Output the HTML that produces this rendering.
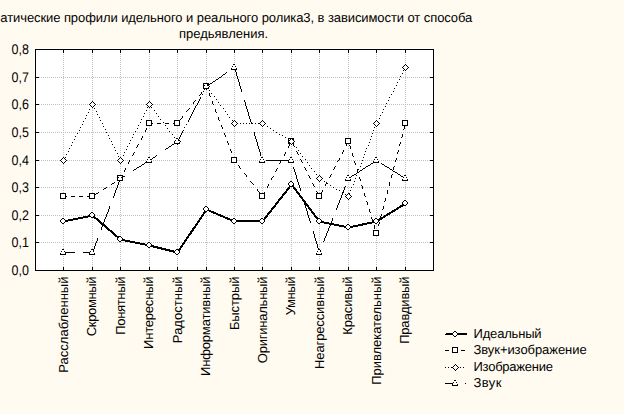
<!DOCTYPE html>
<html><head><meta charset="utf-8"><title>chart</title>
<style>html,body{margin:0;padding:0;background:#fffbf0;overflow:hidden}svg{display:block}</style>
</head><body>
<svg width="624" height="414" viewBox="0 0 624 414" shape-rendering="crispEdges"><rect width="624" height="414" fill="#fffbf0"/><rect x="34" y="48" width="399" height="222" fill="#fff"/><path fill="#fff" d="M454 332h2v1h-2zM453 333h4v1h-4zM453 334h4v1h-4zM454 335h2v1h-2zM453 348h4v1h-4zM453 349h4v1h-4zM453 350h4v1h-4zM453 351h4v1h-4zM455 365h1v1h-1zM454 366h3v1h-3zM453 367h5v1h-5zM454 368h3v1h-3zM455 369h1v1h-1zM454 381h2v1h-2zM454 382h2v1h-2zM453 383h4v1h-4zM453 384h4v1h-4z"/><path fill="#c0c0c0" d="M63 54h1v1h-1zM92 54h1v1h-1zM120 54h1v1h-1zM149 54h1v1h-1zM177 54h1v1h-1zM206 54h1v1h-1zM234 54h1v1h-1zM262 54h1v1h-1zM291 54h1v1h-1zM319 54h1v1h-1zM348 54h1v1h-1zM376 54h1v1h-1zM405 54h1v1h-1zM63 56h1v1h-1zM92 56h1v1h-1zM120 56h1v1h-1zM149 56h1v1h-1zM177 56h1v1h-1zM206 56h1v1h-1zM234 56h1v1h-1zM262 56h1v1h-1zM291 56h1v1h-1zM319 56h1v1h-1zM348 56h1v1h-1zM376 56h1v1h-1zM405 56h1v1h-1zM63 58h1v1h-1zM92 58h1v1h-1zM120 58h1v1h-1zM149 58h1v1h-1zM177 58h1v1h-1zM206 58h1v1h-1zM234 58h1v1h-1zM262 58h1v1h-1zM291 58h1v1h-1zM319 58h1v1h-1zM348 58h1v1h-1zM376 58h1v1h-1zM405 58h1v1h-1zM63 60h1v1h-1zM92 60h1v1h-1zM120 60h1v1h-1zM149 60h1v1h-1zM177 60h1v1h-1zM206 60h1v1h-1zM234 60h1v1h-1zM262 60h1v1h-1zM291 60h1v1h-1zM319 60h1v1h-1zM348 60h1v1h-1zM376 60h1v1h-1zM405 60h1v1h-1zM63 62h1v1h-1zM92 62h1v1h-1zM120 62h1v1h-1zM149 62h1v1h-1zM177 62h1v1h-1zM206 62h1v1h-1zM234 62h1v1h-1zM262 62h1v1h-1zM291 62h1v1h-1zM319 62h1v1h-1zM348 62h1v1h-1zM376 62h1v1h-1zM405 62h1v1h-1zM63 64h1v1h-1zM92 64h1v1h-1zM120 64h1v1h-1zM149 64h1v1h-1zM177 64h1v1h-1zM206 64h1v1h-1zM262 64h1v1h-1zM291 64h1v1h-1zM319 64h1v1h-1zM348 64h1v1h-1zM376 64h1v1h-1zM63 66h1v1h-1zM92 66h1v1h-1zM120 66h1v1h-1zM149 66h1v1h-1zM177 66h1v1h-1zM206 66h1v1h-1zM262 66h1v1h-1zM291 66h1v1h-1zM319 66h1v1h-1zM348 66h1v1h-1zM376 66h1v1h-1zM63 68h1v1h-1zM92 68h1v1h-1zM120 68h1v1h-1zM149 68h1v1h-1zM177 68h1v1h-1zM206 68h1v1h-1zM262 68h1v1h-1zM291 68h1v1h-1zM319 68h1v1h-1zM348 68h1v1h-1zM376 68h1v1h-1zM63 70h1v1h-1zM92 70h1v1h-1zM120 70h1v1h-1zM149 70h1v1h-1zM177 70h1v1h-1zM206 70h1v1h-1zM234 70h1v1h-1zM262 70h1v1h-1zM291 70h1v1h-1zM319 70h1v1h-1zM348 70h1v1h-1zM376 70h1v1h-1zM63 72h1v1h-1zM92 72h1v1h-1zM120 72h1v1h-1zM149 72h1v1h-1zM177 72h1v1h-1zM206 72h1v1h-1zM234 72h1v1h-1zM262 72h1v1h-1zM291 72h1v1h-1zM319 72h1v1h-1zM348 72h1v1h-1zM376 72h1v1h-1zM405 72h1v1h-1zM63 74h1v1h-1zM92 74h1v1h-1zM120 74h1v1h-1zM149 74h1v1h-1zM177 74h1v1h-1zM206 74h1v1h-1zM234 74h1v1h-1zM262 74h1v1h-1zM291 74h1v1h-1zM319 74h1v1h-1zM348 74h1v1h-1zM376 74h1v1h-1zM405 74h1v1h-1zM63 76h1v1h-1zM92 76h1v1h-1zM120 76h1v1h-1zM149 76h1v1h-1zM177 76h1v1h-1zM206 76h1v1h-1zM234 76h1v1h-1zM262 76h1v1h-1zM291 76h1v1h-1zM319 76h1v1h-1zM348 76h1v1h-1zM376 76h1v1h-1zM405 76h1v1h-1zM39 77h1v1h-1zM41 77h1v1h-1zM43 77h1v1h-1zM45 77h1v1h-1zM47 77h1v1h-1zM49 77h1v1h-1zM51 77h1v1h-1zM53 77h1v1h-1zM55 77h1v1h-1zM57 77h1v1h-1zM59 77h1v1h-1zM61 77h1v1h-1zM63 77h1v1h-1zM65 77h1v1h-1zM67 77h1v1h-1zM69 77h1v1h-1zM71 77h1v1h-1zM73 77h1v1h-1zM75 77h1v1h-1zM77 77h1v1h-1zM79 77h1v1h-1zM81 77h1v1h-1zM83 77h1v1h-1zM85 77h1v1h-1zM87 77h1v1h-1zM89 77h1v1h-1zM91 77h1v1h-1zM93 77h1v1h-1zM95 77h1v1h-1zM97 77h1v1h-1zM99 77h1v1h-1zM101 77h1v1h-1zM103 77h1v1h-1zM105 77h1v1h-1zM107 77h1v1h-1zM109 77h1v1h-1zM111 77h1v1h-1zM113 77h1v1h-1zM115 77h1v1h-1zM117 77h1v1h-1zM119 77h1v1h-1zM121 77h1v1h-1zM123 77h1v1h-1zM125 77h1v1h-1zM127 77h1v1h-1zM129 77h1v1h-1zM131 77h1v1h-1zM133 77h1v1h-1zM135 77h1v1h-1zM137 77h1v1h-1zM139 77h1v1h-1zM141 77h1v1h-1zM143 77h1v1h-1zM145 77h1v1h-1zM147 77h1v1h-1zM149 77h1v1h-1zM151 77h1v1h-1zM153 77h1v1h-1zM155 77h1v1h-1zM157 77h1v1h-1zM159 77h1v1h-1zM161 77h1v1h-1zM163 77h1v1h-1zM165 77h1v1h-1zM167 77h1v1h-1zM169 77h1v1h-1zM171 77h1v1h-1zM173 77h1v1h-1zM175 77h1v1h-1zM177 77h1v1h-1zM179 77h1v1h-1zM181 77h1v1h-1zM183 77h1v1h-1zM185 77h1v1h-1zM187 77h1v1h-1zM189 77h1v1h-1zM191 77h1v1h-1zM193 77h1v1h-1zM195 77h1v1h-1zM197 77h1v1h-1zM199 77h1v1h-1zM201 77h1v1h-1zM203 77h1v1h-1zM205 77h1v1h-1zM207 77h1v1h-1zM209 77h1v1h-1zM211 77h1v1h-1zM213 77h1v1h-1zM215 77h1v1h-1zM217 77h1v1h-1zM221 77h1v1h-1zM223 77h1v1h-1zM225 77h1v1h-1zM227 77h1v1h-1zM229 77h1v1h-1zM231 77h1v1h-1zM233 77h1v1h-1zM235 77h1v1h-1zM239 77h1v1h-1zM241 77h1v1h-1zM243 77h1v1h-1zM245 77h1v1h-1zM247 77h1v1h-1zM249 77h1v1h-1zM251 77h1v1h-1zM253 77h1v1h-1zM255 77h1v1h-1zM257 77h1v1h-1zM259 77h1v1h-1zM261 77h1v1h-1zM263 77h1v1h-1zM265 77h1v1h-1zM267 77h1v1h-1zM269 77h1v1h-1zM271 77h1v1h-1zM273 77h1v1h-1zM275 77h1v1h-1zM277 77h1v1h-1zM279 77h1v1h-1zM281 77h1v1h-1zM283 77h1v1h-1zM285 77h1v1h-1zM287 77h1v1h-1zM289 77h1v1h-1zM291 77h1v1h-1zM293 77h1v1h-1zM295 77h1v1h-1zM297 77h1v1h-1zM299 77h1v1h-1zM301 77h1v1h-1zM303 77h1v1h-1zM305 77h1v1h-1zM307 77h1v1h-1zM309 77h1v1h-1zM311 77h1v1h-1zM313 77h1v1h-1zM315 77h1v1h-1zM317 77h1v1h-1zM319 77h1v1h-1zM321 77h1v1h-1zM323 77h1v1h-1zM325 77h1v1h-1zM327 77h1v1h-1zM329 77h1v1h-1zM331 77h1v1h-1zM333 77h1v1h-1zM335 77h1v1h-1zM337 77h1v1h-1zM339 77h1v1h-1zM341 77h1v1h-1zM343 77h1v1h-1zM345 77h1v1h-1zM347 77h1v1h-1zM349 77h1v1h-1zM351 77h1v1h-1zM353 77h1v1h-1zM355 77h1v1h-1zM357 77h1v1h-1zM359 77h1v1h-1zM361 77h1v1h-1zM363 77h1v1h-1zM365 77h1v1h-1zM367 77h1v1h-1zM369 77h1v1h-1zM371 77h1v1h-1zM373 77h1v1h-1zM375 77h1v1h-1zM377 77h1v1h-1zM379 77h1v1h-1zM381 77h1v1h-1zM383 77h1v1h-1zM385 77h1v1h-1zM387 77h1v1h-1zM389 77h1v1h-1zM391 77h1v1h-1zM393 77h1v1h-1zM395 77h1v1h-1zM397 77h1v1h-1zM399 77h1v1h-1zM401 77h1v1h-1zM403 77h1v1h-1zM405 77h1v1h-1zM407 77h1v1h-1zM409 77h1v1h-1zM411 77h1v1h-1zM413 77h1v1h-1zM415 77h1v1h-1zM417 77h1v1h-1zM419 77h1v1h-1zM421 77h1v1h-1zM423 77h1v1h-1zM425 77h1v1h-1zM427 77h1v1h-1zM429 77h1v1h-1zM63 78h1v1h-1zM92 78h1v1h-1zM120 78h1v1h-1zM149 78h1v1h-1zM177 78h1v1h-1zM206 78h1v1h-1zM234 78h1v1h-1zM262 78h1v1h-1zM291 78h1v1h-1zM319 78h1v1h-1zM348 78h1v1h-1zM376 78h1v1h-1zM405 78h1v1h-1zM63 80h1v1h-1zM92 80h1v1h-1zM120 80h1v1h-1zM149 80h1v1h-1zM177 80h1v1h-1zM206 80h1v1h-1zM234 80h1v1h-1zM262 80h1v1h-1zM291 80h1v1h-1zM319 80h1v1h-1zM348 80h1v1h-1zM376 80h1v1h-1zM405 80h1v1h-1zM63 82h1v1h-1zM92 82h1v1h-1zM120 82h1v1h-1zM149 82h1v1h-1zM177 82h1v1h-1zM206 82h1v1h-1zM234 82h1v1h-1zM262 82h1v1h-1zM291 82h1v1h-1zM319 82h1v1h-1zM348 82h1v1h-1zM376 82h1v1h-1zM405 82h1v1h-1zM63 84h1v1h-1zM92 84h1v1h-1zM120 84h1v1h-1zM149 84h1v1h-1zM177 84h1v1h-1zM234 84h1v1h-1zM262 84h1v1h-1zM291 84h1v1h-1zM319 84h1v1h-1zM348 84h1v1h-1zM376 84h1v1h-1zM405 84h1v1h-1zM63 86h1v1h-1zM92 86h1v1h-1zM120 86h1v1h-1zM149 86h1v1h-1zM177 86h1v1h-1zM234 86h1v1h-1zM262 86h1v1h-1zM291 86h1v1h-1zM319 86h1v1h-1zM348 86h1v1h-1zM376 86h1v1h-1zM405 86h1v1h-1zM63 88h1v1h-1zM92 88h1v1h-1zM120 88h1v1h-1zM149 88h1v1h-1zM177 88h1v1h-1zM234 88h1v1h-1zM262 88h1v1h-1zM291 88h1v1h-1zM319 88h1v1h-1zM348 88h1v1h-1zM376 88h1v1h-1zM405 88h1v1h-1zM63 90h1v1h-1zM92 90h1v1h-1zM120 90h1v1h-1zM149 90h1v1h-1zM177 90h1v1h-1zM206 90h1v1h-1zM234 90h1v1h-1zM262 90h1v1h-1zM291 90h1v1h-1zM319 90h1v1h-1zM348 90h1v1h-1zM376 90h1v1h-1zM405 90h1v1h-1zM63 92h1v1h-1zM92 92h1v1h-1zM120 92h1v1h-1zM149 92h1v1h-1zM177 92h1v1h-1zM206 92h1v1h-1zM234 92h1v1h-1zM262 92h1v1h-1zM291 92h1v1h-1zM319 92h1v1h-1zM348 92h1v1h-1zM376 92h1v1h-1zM405 92h1v1h-1zM63 94h1v1h-1zM92 94h1v1h-1zM120 94h1v1h-1zM149 94h1v1h-1zM177 94h1v1h-1zM206 94h1v1h-1zM234 94h1v1h-1zM262 94h1v1h-1zM291 94h1v1h-1zM319 94h1v1h-1zM348 94h1v1h-1zM376 94h1v1h-1zM405 94h1v1h-1zM63 96h1v1h-1zM92 96h1v1h-1zM120 96h1v1h-1zM149 96h1v1h-1zM177 96h1v1h-1zM206 96h1v1h-1zM234 96h1v1h-1zM262 96h1v1h-1zM291 96h1v1h-1zM319 96h1v1h-1zM348 96h1v1h-1zM376 96h1v1h-1zM405 96h1v1h-1zM63 98h1v1h-1zM92 98h1v1h-1zM120 98h1v1h-1zM149 98h1v1h-1zM177 98h1v1h-1zM206 98h1v1h-1zM234 98h1v1h-1zM262 98h1v1h-1zM291 98h1v1h-1zM319 98h1v1h-1zM348 98h1v1h-1zM376 98h1v1h-1zM405 98h1v1h-1zM63 100h1v1h-1zM92 100h1v1h-1zM120 100h1v1h-1zM149 100h1v1h-1zM177 100h1v1h-1zM206 100h1v1h-1zM234 100h1v1h-1zM262 100h1v1h-1zM291 100h1v1h-1zM319 100h1v1h-1zM348 100h1v1h-1zM376 100h1v1h-1zM405 100h1v1h-1zM63 102h1v1h-1zM120 102h1v1h-1zM177 102h1v1h-1zM206 102h1v1h-1zM234 102h1v1h-1zM262 102h1v1h-1zM291 102h1v1h-1zM319 102h1v1h-1zM348 102h1v1h-1zM376 102h1v1h-1zM405 102h1v1h-1zM39 104h1v1h-1zM41 104h1v1h-1zM43 104h1v1h-1zM45 104h1v1h-1zM47 104h1v1h-1zM49 104h1v1h-1zM51 104h1v1h-1zM53 104h1v1h-1zM55 104h1v1h-1zM57 104h1v1h-1zM59 104h1v1h-1zM61 104h1v1h-1zM63 104h1v1h-1zM65 104h1v1h-1zM67 104h1v1h-1zM69 104h1v1h-1zM71 104h1v1h-1zM73 104h1v1h-1zM75 104h1v1h-1zM77 104h1v1h-1zM79 104h1v1h-1zM81 104h1v1h-1zM83 104h1v1h-1zM85 104h1v1h-1zM87 104h1v1h-1zM97 104h1v1h-1zM99 104h1v1h-1zM101 104h1v1h-1zM103 104h1v1h-1zM105 104h1v1h-1zM107 104h1v1h-1zM109 104h1v1h-1zM111 104h1v1h-1zM113 104h1v1h-1zM115 104h1v1h-1zM117 104h1v1h-1zM119 104h3v1h-3zM123 104h1v1h-1zM125 104h1v1h-1zM127 104h1v1h-1zM129 104h1v1h-1zM131 104h1v1h-1zM133 104h1v1h-1zM135 104h1v1h-1zM137 104h1v1h-1zM139 104h1v1h-1zM141 104h1v1h-1zM143 104h1v1h-1zM145 104h1v1h-1zM153 104h1v1h-1zM155 104h1v1h-1zM157 104h1v1h-1zM159 104h1v1h-1zM161 104h1v1h-1zM163 104h1v1h-1zM165 104h1v1h-1zM167 104h1v1h-1zM169 104h1v1h-1zM171 104h1v1h-1zM173 104h1v1h-1zM175 104h1v1h-1zM177 104h1v1h-1zM179 104h1v1h-1zM181 104h1v1h-1zM183 104h1v1h-1zM185 104h1v1h-1zM187 104h1v1h-1zM189 104h1v1h-1zM191 104h1v1h-1zM193 104h1v1h-1zM195 104h1v1h-1zM199 104h1v1h-1zM201 104h1v1h-1zM203 104h1v1h-1zM205 104h3v1h-3zM209 104h1v1h-1zM211 104h1v1h-1zM215 104h1v1h-1zM217 104h1v1h-1zM219 104h1v1h-1zM221 104h1v1h-1zM223 104h1v1h-1zM225 104h1v1h-1zM227 104h1v1h-1zM229 104h1v1h-1zM231 104h1v1h-1zM233 104h3v1h-3zM237 104h1v1h-1zM239 104h1v1h-1zM241 104h1v1h-1zM243 104h1v1h-1zM247 104h1v1h-1zM249 104h1v1h-1zM251 104h1v1h-1zM253 104h1v1h-1zM255 104h1v1h-1zM257 104h1v1h-1zM259 104h1v1h-1zM261 104h3v1h-3zM265 104h1v1h-1zM267 104h1v1h-1zM269 104h1v1h-1zM271 104h1v1h-1zM273 104h1v1h-1zM275 104h1v1h-1zM277 104h1v1h-1zM279 104h1v1h-1zM281 104h1v1h-1zM283 104h1v1h-1zM285 104h1v1h-1zM287 104h1v1h-1zM289 104h1v1h-1zM291 104h1v1h-1zM293 104h1v1h-1zM295 104h1v1h-1zM297 104h1v1h-1zM299 104h1v1h-1zM301 104h1v1h-1zM303 104h1v1h-1zM305 104h1v1h-1zM307 104h1v1h-1zM309 104h1v1h-1zM311 104h1v1h-1zM313 104h1v1h-1zM315 104h1v1h-1zM317 104h1v1h-1zM319 104h1v1h-1zM321 104h1v1h-1zM323 104h1v1h-1zM325 104h1v1h-1zM327 104h1v1h-1zM329 104h1v1h-1zM331 104h1v1h-1zM333 104h1v1h-1zM335 104h1v1h-1zM337 104h1v1h-1zM339 104h1v1h-1zM341 104h1v1h-1zM343 104h1v1h-1zM345 104h1v1h-1zM347 104h3v1h-3zM351 104h1v1h-1zM353 104h1v1h-1zM355 104h1v1h-1zM357 104h1v1h-1zM359 104h1v1h-1zM361 104h1v1h-1zM363 104h1v1h-1zM365 104h1v1h-1zM367 104h1v1h-1zM369 104h1v1h-1zM371 104h1v1h-1zM373 104h1v1h-1zM375 104h3v1h-3zM379 104h1v1h-1zM381 104h1v1h-1zM383 104h1v1h-1zM385 104h1v1h-1zM387 104h1v1h-1zM389 104h1v1h-1zM391 104h1v1h-1zM393 104h1v1h-1zM395 104h1v1h-1zM397 104h1v1h-1zM399 104h1v1h-1zM401 104h1v1h-1zM403 104h1v1h-1zM405 104h1v1h-1zM407 104h1v1h-1zM409 104h1v1h-1zM411 104h1v1h-1zM413 104h1v1h-1zM415 104h1v1h-1zM417 104h1v1h-1zM419 104h1v1h-1zM421 104h1v1h-1zM423 104h1v1h-1zM425 104h1v1h-1zM427 104h1v1h-1zM429 104h1v1h-1zM63 106h1v1h-1zM120 106h1v1h-1zM177 106h1v1h-1zM206 106h1v1h-1zM234 106h1v1h-1zM262 106h1v1h-1zM291 106h1v1h-1zM319 106h1v1h-1zM348 106h1v1h-1zM376 106h1v1h-1zM405 106h1v1h-1zM63 108h1v1h-1zM92 108h1v1h-1zM120 108h1v1h-1zM149 108h1v1h-1zM177 108h1v1h-1zM206 108h1v1h-1zM234 108h1v1h-1zM262 108h1v1h-1zM291 108h1v1h-1zM319 108h1v1h-1zM348 108h1v1h-1zM376 108h1v1h-1zM405 108h1v1h-1zM63 110h1v1h-1zM92 110h1v1h-1zM120 110h1v1h-1zM149 110h1v1h-1zM177 110h1v1h-1zM206 110h1v1h-1zM234 110h1v1h-1zM262 110h1v1h-1zM291 110h1v1h-1zM319 110h1v1h-1zM348 110h1v1h-1zM376 110h1v1h-1zM405 110h1v1h-1zM63 112h1v1h-1zM92 112h1v1h-1zM120 112h1v1h-1zM149 112h1v1h-1zM177 112h1v1h-1zM206 112h1v1h-1zM234 112h1v1h-1zM262 112h1v1h-1zM291 112h1v1h-1zM319 112h1v1h-1zM348 112h1v1h-1zM376 112h1v1h-1zM405 112h1v1h-1zM63 114h1v1h-1zM92 114h1v1h-1zM120 114h1v1h-1zM149 114h1v1h-1zM177 114h1v1h-1zM206 114h1v1h-1zM234 114h1v1h-1zM262 114h1v1h-1zM291 114h1v1h-1zM319 114h1v1h-1zM348 114h1v1h-1zM376 114h1v1h-1zM405 114h1v1h-1zM63 116h1v1h-1zM92 116h1v1h-1zM120 116h1v1h-1zM149 116h1v1h-1zM177 116h1v1h-1zM206 116h1v1h-1zM234 116h1v1h-1zM262 116h1v1h-1zM291 116h1v1h-1zM319 116h1v1h-1zM348 116h1v1h-1zM376 116h1v1h-1zM405 116h1v1h-1zM63 118h1v1h-1zM92 118h1v1h-1zM120 118h1v1h-1zM149 118h1v1h-1zM177 118h1v1h-1zM206 118h1v1h-1zM234 118h1v1h-1zM262 118h1v1h-1zM291 118h1v1h-1zM319 118h1v1h-1zM348 118h1v1h-1zM376 118h1v1h-1zM405 118h1v1h-1zM63 120h1v1h-1zM92 120h1v1h-1zM120 120h1v1h-1zM206 120h1v1h-1zM291 120h1v1h-1zM319 120h1v1h-1zM348 120h1v1h-1zM63 122h1v1h-1zM92 122h1v1h-1zM120 122h1v1h-1zM206 122h1v1h-1zM291 122h1v1h-1zM319 122h1v1h-1zM348 122h1v1h-1zM63 124h1v1h-1zM92 124h1v1h-1zM120 124h1v1h-1zM206 124h1v1h-1zM291 124h1v1h-1zM319 124h1v1h-1zM348 124h1v1h-1zM63 126h1v1h-1zM92 126h1v1h-1zM120 126h1v1h-1zM149 126h1v1h-1zM177 126h1v1h-1zM206 126h1v1h-1zM291 126h1v1h-1zM319 126h1v1h-1zM348 126h1v1h-1zM405 126h1v1h-1zM63 128h1v1h-1zM92 128h1v1h-1zM120 128h1v1h-1zM149 128h1v1h-1zM177 128h1v1h-1zM206 128h1v1h-1zM234 128h1v1h-1zM262 128h1v1h-1zM291 128h1v1h-1zM319 128h1v1h-1zM348 128h1v1h-1zM376 128h1v1h-1zM405 128h1v1h-1zM63 130h1v1h-1zM92 130h1v1h-1zM120 130h1v1h-1zM149 130h1v1h-1zM177 130h1v1h-1zM206 130h1v1h-1zM234 130h1v1h-1zM262 130h1v1h-1zM291 130h1v1h-1zM319 130h1v1h-1zM348 130h1v1h-1zM376 130h1v1h-1zM405 130h1v1h-1zM39 132h1v1h-1zM41 132h1v1h-1zM43 132h1v1h-1zM45 132h1v1h-1zM47 132h1v1h-1zM49 132h1v1h-1zM51 132h1v1h-1zM53 132h1v1h-1zM55 132h1v1h-1zM57 132h1v1h-1zM59 132h1v1h-1zM61 132h1v1h-1zM63 132h1v1h-1zM65 132h1v1h-1zM67 132h1v1h-1zM69 132h1v1h-1zM71 132h1v1h-1zM73 132h1v1h-1zM75 132h1v1h-1zM77 132h1v1h-1zM79 132h1v1h-1zM81 132h1v1h-1zM83 132h1v1h-1zM85 132h1v1h-1zM87 132h1v1h-1zM89 132h1v1h-1zM91 132h3v1h-3zM95 132h1v1h-1zM97 132h1v1h-1zM99 132h1v1h-1zM101 132h1v1h-1zM103 132h1v1h-1zM105 132h1v1h-1zM107 132h1v1h-1zM109 132h1v1h-1zM111 132h1v1h-1zM113 132h1v1h-1zM115 132h1v1h-1zM117 132h1v1h-1zM119 132h3v1h-3zM123 132h1v1h-1zM125 132h1v1h-1zM127 132h1v1h-1zM129 132h1v1h-1zM131 132h1v1h-1zM133 132h1v1h-1zM135 132h1v1h-1zM137 132h1v1h-1zM139 132h1v1h-1zM141 132h1v1h-1zM143 132h1v1h-1zM145 132h1v1h-1zM147 132h1v1h-1zM149 132h1v1h-1zM151 132h1v1h-1zM153 132h1v1h-1zM155 132h1v1h-1zM157 132h1v1h-1zM159 132h1v1h-1zM161 132h1v1h-1zM163 132h1v1h-1zM165 132h1v1h-1zM167 132h1v1h-1zM169 132h1v1h-1zM171 132h1v1h-1zM173 132h1v1h-1zM175 132h1v1h-1zM177 132h1v1h-1zM179 132h1v1h-1zM181 132h1v1h-1zM183 132h1v1h-1zM185 132h1v1h-1zM187 132h1v1h-1zM189 132h1v1h-1zM191 132h1v1h-1zM193 132h1v1h-1zM195 132h1v1h-1zM197 132h1v1h-1zM199 132h1v1h-1zM201 132h1v1h-1zM203 132h1v1h-1zM205 132h3v1h-3zM209 132h1v1h-1zM211 132h1v1h-1zM213 132h1v1h-1zM215 132h1v1h-1zM217 132h1v1h-1zM219 132h1v1h-1zM221 132h1v1h-1zM223 132h1v1h-1zM225 132h1v1h-1zM227 132h1v1h-1zM229 132h1v1h-1zM231 132h1v1h-1zM233 132h3v1h-3zM237 132h1v1h-1zM239 132h1v1h-1zM241 132h1v1h-1zM243 132h1v1h-1zM245 132h1v1h-1zM247 132h1v1h-1zM249 132h1v1h-1zM251 132h1v1h-1zM253 132h1v1h-1zM255 132h1v1h-1zM257 132h1v1h-1zM259 132h1v1h-1zM261 132h3v1h-3zM265 132h1v1h-1zM267 132h1v1h-1zM269 132h1v1h-1zM271 132h1v1h-1zM273 132h1v1h-1zM275 132h1v1h-1zM277 132h1v1h-1zM279 132h1v1h-1zM281 132h1v1h-1zM283 132h1v1h-1zM285 132h1v1h-1zM287 132h1v1h-1zM289 132h1v1h-1zM291 132h1v1h-1zM293 132h1v1h-1zM295 132h1v1h-1zM297 132h1v1h-1zM299 132h1v1h-1zM301 132h1v1h-1zM303 132h1v1h-1zM305 132h1v1h-1zM307 132h1v1h-1zM309 132h1v1h-1zM311 132h1v1h-1zM313 132h1v1h-1zM315 132h1v1h-1zM317 132h1v1h-1zM319 132h1v1h-1zM321 132h1v1h-1zM323 132h1v1h-1zM325 132h1v1h-1zM327 132h1v1h-1zM329 132h1v1h-1zM331 132h1v1h-1zM333 132h1v1h-1zM335 132h1v1h-1zM337 132h1v1h-1zM339 132h1v1h-1zM341 132h1v1h-1zM343 132h1v1h-1zM345 132h1v1h-1zM347 132h3v1h-3zM351 132h1v1h-1zM353 132h1v1h-1zM355 132h1v1h-1zM357 132h1v1h-1zM359 132h1v1h-1zM361 132h1v1h-1zM363 132h1v1h-1zM365 132h1v1h-1zM367 132h1v1h-1zM369 132h1v1h-1zM371 132h1v1h-1zM373 132h1v1h-1zM375 132h3v1h-3zM379 132h1v1h-1zM381 132h1v1h-1zM383 132h1v1h-1zM385 132h1v1h-1zM387 132h1v1h-1zM389 132h1v1h-1zM391 132h1v1h-1zM393 132h1v1h-1zM395 132h1v1h-1zM397 132h1v1h-1zM399 132h1v1h-1zM401 132h1v1h-1zM403 132h1v1h-1zM405 132h1v1h-1zM407 132h1v1h-1zM409 132h1v1h-1zM411 132h1v1h-1zM413 132h1v1h-1zM415 132h1v1h-1zM417 132h1v1h-1zM419 132h1v1h-1zM421 132h1v1h-1zM423 132h1v1h-1zM425 132h1v1h-1zM427 132h1v1h-1zM429 132h1v1h-1zM63 134h1v1h-1zM92 134h1v1h-1zM120 134h1v1h-1zM149 134h1v1h-1zM177 134h1v1h-1zM206 134h1v1h-1zM234 134h1v1h-1zM262 134h1v1h-1zM291 134h1v1h-1zM319 134h1v1h-1zM348 134h1v1h-1zM376 134h1v1h-1zM405 134h1v1h-1zM63 136h1v1h-1zM92 136h1v1h-1zM120 136h1v1h-1zM149 136h1v1h-1zM177 136h1v1h-1zM206 136h1v1h-1zM234 136h1v1h-1zM262 136h1v1h-1zM291 136h1v1h-1zM319 136h1v1h-1zM348 136h1v1h-1zM376 136h1v1h-1zM405 136h1v1h-1zM63 138h1v1h-1zM92 138h1v1h-1zM120 138h1v1h-1zM149 138h1v1h-1zM206 138h1v1h-1zM234 138h1v1h-1zM262 138h1v1h-1zM319 138h1v1h-1zM376 138h1v1h-1zM405 138h1v1h-1zM63 140h1v1h-1zM92 140h1v1h-1zM120 140h1v1h-1zM149 140h1v1h-1zM206 140h1v1h-1zM234 140h1v1h-1zM262 140h1v1h-1zM319 140h1v1h-1zM376 140h1v1h-1zM405 140h1v1h-1zM63 142h1v1h-1zM92 142h1v1h-1zM120 142h1v1h-1zM149 142h1v1h-1zM206 142h1v1h-1zM234 142h1v1h-1zM262 142h1v1h-1zM319 142h1v1h-1zM376 142h1v1h-1zM405 142h1v1h-1zM63 144h1v1h-1zM92 144h1v1h-1zM120 144h1v1h-1zM149 144h1v1h-1zM206 144h1v1h-1zM234 144h1v1h-1zM262 144h1v1h-1zM319 144h1v1h-1zM348 144h1v1h-1zM376 144h1v1h-1zM405 144h1v1h-1zM63 146h1v1h-1zM92 146h1v1h-1zM120 146h1v1h-1zM149 146h1v1h-1zM177 146h1v1h-1zM206 146h1v1h-1zM234 146h1v1h-1zM262 146h1v1h-1zM291 146h1v1h-1zM319 146h1v1h-1zM348 146h1v1h-1zM376 146h1v1h-1zM405 146h1v1h-1zM63 148h1v1h-1zM92 148h1v1h-1zM120 148h1v1h-1zM149 148h1v1h-1zM177 148h1v1h-1zM206 148h1v1h-1zM234 148h1v1h-1zM262 148h1v1h-1zM291 148h1v1h-1zM319 148h1v1h-1zM348 148h1v1h-1zM376 148h1v1h-1zM405 148h1v1h-1zM63 150h1v1h-1zM92 150h1v1h-1zM120 150h1v1h-1zM149 150h1v1h-1zM177 150h1v1h-1zM206 150h1v1h-1zM234 150h1v1h-1zM262 150h1v1h-1zM291 150h1v1h-1zM319 150h1v1h-1zM348 150h1v1h-1zM376 150h1v1h-1zM405 150h1v1h-1zM63 152h1v1h-1zM92 152h1v1h-1zM120 152h1v1h-1zM149 152h1v1h-1zM177 152h1v1h-1zM206 152h1v1h-1zM234 152h1v1h-1zM262 152h1v1h-1zM291 152h1v1h-1zM319 152h1v1h-1zM348 152h1v1h-1zM376 152h1v1h-1zM405 152h1v1h-1zM63 154h1v1h-1zM92 154h1v1h-1zM120 154h1v1h-1zM149 154h1v1h-1zM177 154h1v1h-1zM206 154h1v1h-1zM234 154h1v1h-1zM262 154h1v1h-1zM291 154h1v1h-1zM319 154h1v1h-1zM348 154h1v1h-1zM376 154h1v1h-1zM405 154h1v1h-1zM63 156h1v1h-1zM92 156h1v1h-1zM120 156h1v1h-1zM149 156h1v1h-1zM177 156h1v1h-1zM206 156h1v1h-1zM234 156h1v1h-1zM262 156h1v1h-1zM291 156h1v1h-1zM319 156h1v1h-1zM348 156h1v1h-1zM376 156h1v1h-1zM405 156h1v1h-1zM92 158h1v1h-1zM177 158h1v1h-1zM206 158h1v1h-1zM319 158h1v1h-1zM348 158h1v1h-1zM405 158h1v1h-1zM39 160h1v1h-1zM41 160h1v1h-1zM43 160h1v1h-1zM45 160h1v1h-1zM47 160h1v1h-1zM49 160h1v1h-1zM51 160h1v1h-1zM53 160h1v1h-1zM55 160h1v1h-1zM57 160h1v1h-1zM59 160h1v1h-1zM67 160h1v1h-1zM69 160h1v1h-1zM71 160h1v1h-1zM73 160h1v1h-1zM75 160h1v1h-1zM77 160h1v1h-1zM79 160h1v1h-1zM81 160h1v1h-1zM83 160h1v1h-1zM85 160h1v1h-1zM87 160h1v1h-1zM89 160h1v1h-1zM91 160h3v1h-3zM95 160h1v1h-1zM97 160h1v1h-1zM99 160h1v1h-1zM101 160h1v1h-1zM103 160h1v1h-1zM105 160h1v1h-1zM107 160h1v1h-1zM109 160h1v1h-1zM111 160h1v1h-1zM113 160h1v1h-1zM115 160h1v1h-1zM125 160h1v1h-1zM127 160h1v1h-1zM131 160h1v1h-1zM133 160h1v1h-1zM135 160h1v1h-1zM137 160h1v1h-1zM139 160h1v1h-1zM141 160h1v1h-1zM143 160h1v1h-1zM145 160h1v1h-1zM151 160h1v1h-1zM153 160h1v1h-1zM155 160h1v1h-1zM157 160h1v1h-1zM159 160h1v1h-1zM161 160h1v1h-1zM163 160h1v1h-1zM165 160h1v1h-1zM167 160h1v1h-1zM169 160h1v1h-1zM171 160h1v1h-1zM173 160h1v1h-1zM175 160h1v1h-1zM177 160h1v1h-1zM179 160h1v1h-1zM181 160h1v1h-1zM183 160h1v1h-1zM185 160h1v1h-1zM187 160h1v1h-1zM189 160h1v1h-1zM191 160h1v1h-1zM193 160h1v1h-1zM195 160h1v1h-1zM197 160h1v1h-1zM199 160h1v1h-1zM201 160h1v1h-1zM203 160h1v1h-1zM205 160h3v1h-3zM209 160h1v1h-1zM211 160h1v1h-1zM213 160h1v1h-1zM215 160h1v1h-1zM217 160h1v1h-1zM219 160h1v1h-1zM221 160h1v1h-1zM223 160h1v1h-1zM225 160h1v1h-1zM227 160h1v1h-1zM229 160h1v1h-1zM237 160h1v1h-1zM239 160h1v1h-1zM241 160h1v1h-1zM243 160h1v1h-1zM245 160h1v1h-1zM247 160h1v1h-1zM249 160h1v1h-1zM251 160h1v1h-1zM253 160h1v1h-1zM255 160h1v1h-1zM257 160h1v1h-1zM259 160h1v1h-1zM265 160h1v1h-1zM293 160h1v1h-1zM295 160h1v1h-1zM297 160h1v1h-1zM299 160h1v1h-1zM303 160h1v1h-1zM305 160h1v1h-1zM307 160h1v1h-1zM309 160h1v1h-1zM311 160h1v1h-1zM313 160h1v1h-1zM315 160h1v1h-1zM317 160h1v1h-1zM319 160h1v1h-1zM321 160h1v1h-1zM323 160h1v1h-1zM325 160h1v1h-1zM327 160h1v1h-1zM329 160h1v1h-1zM331 160h1v1h-1zM333 160h1v1h-1zM335 160h1v1h-1zM337 160h1v1h-1zM339 160h1v1h-1zM341 160h1v1h-1zM343 160h1v1h-1zM345 160h1v1h-1zM347 160h3v1h-3zM351 160h1v1h-1zM353 160h1v1h-1zM355 160h1v1h-1zM357 160h1v1h-1zM359 160h1v1h-1zM361 160h1v1h-1zM363 160h1v1h-1zM365 160h1v1h-1zM367 160h1v1h-1zM369 160h1v1h-1zM371 160h1v1h-1zM373 160h1v1h-1zM379 160h1v1h-1zM381 160h1v1h-1zM383 160h1v1h-1zM385 160h1v1h-1zM387 160h1v1h-1zM389 160h1v1h-1zM391 160h1v1h-1zM393 160h1v1h-1zM397 160h1v1h-1zM399 160h1v1h-1zM401 160h1v1h-1zM403 160h1v1h-1zM405 160h1v1h-1zM407 160h1v1h-1zM409 160h1v1h-1zM411 160h1v1h-1zM413 160h1v1h-1zM415 160h1v1h-1zM417 160h1v1h-1zM419 160h1v1h-1zM421 160h1v1h-1zM423 160h1v1h-1zM425 160h1v1h-1zM427 160h1v1h-1zM429 160h1v1h-1zM92 162h1v1h-1zM177 162h1v1h-1zM206 162h1v1h-1zM319 162h1v1h-1zM348 162h1v1h-1zM405 162h1v1h-1zM63 164h1v1h-1zM92 164h1v1h-1zM120 164h1v1h-1zM149 164h1v1h-1zM177 164h1v1h-1zM206 164h1v1h-1zM234 164h1v1h-1zM262 164h1v1h-1zM291 164h1v1h-1zM319 164h1v1h-1zM348 164h1v1h-1zM376 164h1v1h-1zM405 164h1v1h-1zM63 166h1v1h-1zM92 166h1v1h-1zM120 166h1v1h-1zM149 166h1v1h-1zM177 166h1v1h-1zM206 166h1v1h-1zM234 166h1v1h-1zM262 166h1v1h-1zM291 166h1v1h-1zM319 166h1v1h-1zM348 166h1v1h-1zM376 166h1v1h-1zM405 166h1v1h-1zM63 168h1v1h-1zM92 168h1v1h-1zM120 168h1v1h-1zM149 168h1v1h-1zM177 168h1v1h-1zM206 168h1v1h-1zM234 168h1v1h-1zM262 168h1v1h-1zM291 168h1v1h-1zM319 168h1v1h-1zM348 168h1v1h-1zM376 168h1v1h-1zM405 168h1v1h-1zM63 170h1v1h-1zM92 170h1v1h-1zM120 170h1v1h-1zM149 170h1v1h-1zM177 170h1v1h-1zM206 170h1v1h-1zM234 170h1v1h-1zM262 170h1v1h-1zM291 170h1v1h-1zM319 170h1v1h-1zM348 170h1v1h-1zM376 170h1v1h-1zM405 170h1v1h-1zM63 172h1v1h-1zM92 172h1v1h-1zM120 172h1v1h-1zM149 172h1v1h-1zM177 172h1v1h-1zM206 172h1v1h-1zM234 172h1v1h-1zM262 172h1v1h-1zM291 172h1v1h-1zM319 172h1v1h-1zM348 172h1v1h-1zM376 172h1v1h-1zM405 172h1v1h-1zM63 174h1v1h-1zM92 174h1v1h-1zM120 174h1v1h-1zM149 174h1v1h-1zM177 174h1v1h-1zM206 174h1v1h-1zM234 174h1v1h-1zM262 174h1v1h-1zM291 174h1v1h-1zM319 174h1v1h-1zM348 174h1v1h-1zM376 174h1v1h-1zM405 174h1v1h-1zM63 176h1v1h-1zM92 176h1v1h-1zM149 176h1v1h-1zM177 176h1v1h-1zM206 176h1v1h-1zM234 176h1v1h-1zM262 176h1v1h-1zM291 176h1v1h-1zM376 176h1v1h-1zM63 178h1v1h-1zM92 178h1v1h-1zM149 178h1v1h-1zM177 178h1v1h-1zM206 178h1v1h-1zM234 178h1v1h-1zM262 178h1v1h-1zM291 178h1v1h-1zM376 178h1v1h-1zM63 180h1v1h-1zM92 180h1v1h-1zM149 180h1v1h-1zM177 180h1v1h-1zM206 180h1v1h-1zM234 180h1v1h-1zM262 180h1v1h-1zM291 180h1v1h-1zM376 180h1v1h-1zM63 182h1v1h-1zM92 182h1v1h-1zM120 182h1v1h-1zM149 182h1v1h-1zM177 182h1v1h-1zM206 182h1v1h-1zM234 182h1v1h-1zM262 182h1v1h-1zM319 182h1v1h-1zM348 182h1v1h-1zM376 182h1v1h-1zM405 182h1v1h-1zM63 184h1v1h-1zM92 184h1v1h-1zM120 184h1v1h-1zM149 184h1v1h-1zM177 184h1v1h-1zM206 184h1v1h-1zM234 184h1v1h-1zM262 184h1v1h-1zM319 184h1v1h-1zM348 184h1v1h-1zM376 184h1v1h-1zM405 184h1v1h-1zM63 186h1v1h-1zM92 186h1v1h-1zM120 186h1v1h-1zM149 186h1v1h-1zM177 186h1v1h-1zM206 186h1v1h-1zM234 186h1v1h-1zM262 186h1v1h-1zM319 186h1v1h-1zM348 186h1v1h-1zM376 186h1v1h-1zM405 186h1v1h-1zM39 187h1v1h-1zM41 187h1v1h-1zM43 187h1v1h-1zM45 187h1v1h-1zM47 187h1v1h-1zM49 187h1v1h-1zM51 187h1v1h-1zM53 187h1v1h-1zM55 187h1v1h-1zM57 187h1v1h-1zM59 187h1v1h-1zM61 187h1v1h-1zM63 187h1v1h-1zM65 187h1v1h-1zM67 187h1v1h-1zM69 187h1v1h-1zM71 187h1v1h-1zM73 187h1v1h-1zM75 187h1v1h-1zM77 187h1v1h-1zM79 187h1v1h-1zM81 187h1v1h-1zM83 187h1v1h-1zM85 187h1v1h-1zM87 187h1v1h-1zM89 187h1v1h-1zM91 187h1v1h-1zM93 187h1v1h-1zM95 187h1v1h-1zM97 187h1v1h-1zM99 187h1v1h-1zM101 187h1v1h-1zM103 187h1v1h-1zM105 187h1v1h-1zM107 187h1v1h-1zM109 187h1v1h-1zM111 187h1v1h-1zM113 187h1v1h-1zM115 187h1v1h-1zM119 187h1v1h-1zM121 187h1v1h-1zM123 187h1v1h-1zM125 187h1v1h-1zM127 187h1v1h-1zM129 187h1v1h-1zM131 187h1v1h-1zM133 187h1v1h-1zM135 187h1v1h-1zM137 187h1v1h-1zM139 187h1v1h-1zM141 187h1v1h-1zM143 187h1v1h-1zM145 187h1v1h-1zM147 187h1v1h-1zM149 187h1v1h-1zM151 187h1v1h-1zM153 187h1v1h-1zM155 187h1v1h-1zM157 187h1v1h-1zM159 187h1v1h-1zM161 187h1v1h-1zM163 187h1v1h-1zM165 187h1v1h-1zM167 187h1v1h-1zM169 187h1v1h-1zM171 187h1v1h-1zM173 187h1v1h-1zM175 187h1v1h-1zM177 187h1v1h-1zM179 187h1v1h-1zM181 187h1v1h-1zM183 187h1v1h-1zM185 187h1v1h-1zM187 187h1v1h-1zM189 187h1v1h-1zM191 187h1v1h-1zM193 187h1v1h-1zM195 187h1v1h-1zM197 187h1v1h-1zM199 187h1v1h-1zM201 187h1v1h-1zM203 187h1v1h-1zM205 187h1v1h-1zM207 187h1v1h-1zM209 187h1v1h-1zM211 187h1v1h-1zM213 187h1v1h-1zM215 187h1v1h-1zM217 187h1v1h-1zM219 187h1v1h-1zM221 187h1v1h-1zM223 187h1v1h-1zM225 187h1v1h-1zM227 187h1v1h-1zM229 187h1v1h-1zM231 187h1v1h-1zM233 187h1v1h-1zM235 187h1v1h-1zM237 187h1v1h-1zM239 187h1v1h-1zM241 187h1v1h-1zM243 187h1v1h-1zM245 187h1v1h-1zM247 187h1v1h-1zM249 187h1v1h-1zM251 187h1v1h-1zM253 187h1v1h-1zM255 187h1v1h-1zM257 187h1v1h-1zM259 187h1v1h-1zM261 187h1v1h-1zM263 187h1v1h-1zM265 187h1v1h-1zM269 187h1v1h-1zM271 187h1v1h-1zM273 187h1v1h-1zM275 187h1v1h-1zM277 187h1v1h-1zM279 187h1v1h-1zM281 187h1v1h-1zM283 187h1v1h-1zM285 187h1v1h-1zM287 187h1v1h-1zM291 187h1v1h-1zM295 187h1v1h-1zM297 187h1v1h-1zM301 187h1v1h-1zM303 187h1v1h-1zM305 187h1v1h-1zM307 187h1v1h-1zM309 187h1v1h-1zM311 187h1v1h-1zM313 187h1v1h-1zM315 187h1v1h-1zM317 187h1v1h-1zM319 187h1v1h-1zM321 187h1v1h-1zM323 187h1v1h-1zM325 187h1v1h-1zM327 187h1v1h-1zM329 187h1v1h-1zM331 187h1v1h-1zM335 187h1v1h-1zM337 187h1v1h-1zM339 187h1v1h-1zM341 187h1v1h-1zM343 187h1v1h-1zM345 187h1v1h-1zM347 187h1v1h-1zM349 187h1v1h-1zM353 187h1v1h-1zM355 187h1v1h-1zM357 187h1v1h-1zM359 187h1v1h-1zM361 187h1v1h-1zM363 187h1v1h-1zM365 187h1v1h-1zM367 187h1v1h-1zM369 187h1v1h-1zM371 187h1v1h-1zM373 187h1v1h-1zM375 187h1v1h-1zM377 187h1v1h-1zM379 187h1v1h-1zM381 187h1v1h-1zM383 187h1v1h-1zM385 187h1v1h-1zM387 187h1v1h-1zM389 187h1v1h-1zM391 187h1v1h-1zM393 187h1v1h-1zM395 187h1v1h-1zM397 187h1v1h-1zM399 187h1v1h-1zM401 187h1v1h-1zM403 187h1v1h-1zM405 187h1v1h-1zM407 187h1v1h-1zM409 187h1v1h-1zM411 187h1v1h-1zM413 187h1v1h-1zM415 187h1v1h-1zM417 187h1v1h-1zM419 187h1v1h-1zM421 187h1v1h-1zM423 187h1v1h-1zM425 187h1v1h-1zM427 187h1v1h-1zM429 187h1v1h-1zM63 188h1v1h-1zM92 188h1v1h-1zM120 188h1v1h-1zM149 188h1v1h-1zM177 188h1v1h-1zM206 188h1v1h-1zM234 188h1v1h-1zM262 188h1v1h-1zM291 188h1v1h-1zM319 188h1v1h-1zM348 188h1v1h-1zM376 188h1v1h-1zM405 188h1v1h-1zM63 190h1v1h-1zM92 190h1v1h-1zM120 190h1v1h-1zM149 190h1v1h-1zM177 190h1v1h-1zM206 190h1v1h-1zM234 190h1v1h-1zM262 190h1v1h-1zM291 190h1v1h-1zM319 190h1v1h-1zM348 190h1v1h-1zM376 190h1v1h-1zM405 190h1v1h-1zM63 192h1v1h-1zM92 192h1v1h-1zM120 192h1v1h-1zM149 192h1v1h-1zM177 192h1v1h-1zM206 192h1v1h-1zM234 192h1v1h-1zM262 192h1v1h-1zM291 192h1v1h-1zM319 192h1v1h-1zM348 192h1v1h-1zM376 192h1v1h-1zM405 192h1v1h-1zM120 194h1v1h-1zM149 194h1v1h-1zM177 194h1v1h-1zM206 194h1v1h-1zM234 194h1v1h-1zM291 194h1v1h-1zM376 194h1v1h-1zM405 194h1v1h-1zM120 196h1v1h-1zM149 196h1v1h-1zM177 196h1v1h-1zM206 196h1v1h-1zM234 196h1v1h-1zM291 196h1v1h-1zM376 196h1v1h-1zM405 196h1v1h-1zM120 198h1v1h-1zM149 198h1v1h-1zM177 198h1v1h-1zM206 198h1v1h-1zM234 198h1v1h-1zM291 198h1v1h-1zM376 198h1v1h-1zM405 198h1v1h-1zM63 200h1v1h-1zM92 200h1v1h-1zM120 200h1v1h-1zM149 200h1v1h-1zM177 200h1v1h-1zM206 200h1v1h-1zM234 200h1v1h-1zM262 200h1v1h-1zM291 200h1v1h-1zM319 200h1v1h-1zM348 200h1v1h-1zM376 200h1v1h-1zM63 202h1v1h-1zM92 202h1v1h-1zM120 202h1v1h-1zM149 202h1v1h-1zM177 202h1v1h-1zM206 202h1v1h-1zM234 202h1v1h-1zM262 202h1v1h-1zM291 202h1v1h-1zM319 202h1v1h-1zM348 202h1v1h-1zM376 202h1v1h-1zM63 204h1v1h-1zM92 204h1v1h-1zM120 204h1v1h-1zM149 204h1v1h-1zM177 204h1v1h-1zM206 204h1v1h-1zM234 204h1v1h-1zM262 204h1v1h-1zM291 204h1v1h-1zM319 204h1v1h-1zM348 204h1v1h-1zM376 204h1v1h-1zM63 206h1v1h-1zM92 206h1v1h-1zM120 206h1v1h-1zM149 206h1v1h-1zM177 206h1v1h-1zM234 206h1v1h-1zM262 206h1v1h-1zM291 206h1v1h-1zM319 206h1v1h-1zM348 206h1v1h-1zM376 206h1v1h-1zM405 206h1v1h-1zM63 208h1v1h-1zM92 208h1v1h-1zM120 208h1v1h-1zM149 208h1v1h-1zM177 208h1v1h-1zM234 208h1v1h-1zM262 208h1v1h-1zM291 208h1v1h-1zM319 208h1v1h-1zM348 208h1v1h-1zM376 208h1v1h-1zM405 208h1v1h-1zM63 210h1v1h-1zM92 210h1v1h-1zM120 210h1v1h-1zM149 210h1v1h-1zM177 210h1v1h-1zM234 210h1v1h-1zM262 210h1v1h-1zM291 210h1v1h-1zM319 210h1v1h-1zM348 210h1v1h-1zM376 210h1v1h-1zM405 210h1v1h-1zM63 212h1v1h-1zM120 212h1v1h-1zM149 212h1v1h-1zM177 212h1v1h-1zM206 212h1v1h-1zM234 212h1v1h-1zM262 212h1v1h-1zM291 212h1v1h-1zM319 212h1v1h-1zM348 212h1v1h-1zM376 212h1v1h-1zM405 212h1v1h-1zM63 214h1v1h-1zM120 214h1v1h-1zM149 214h1v1h-1zM177 214h1v1h-1zM206 214h1v1h-1zM234 214h1v1h-1zM262 214h1v1h-1zM291 214h1v1h-1zM319 214h1v1h-1zM348 214h1v1h-1zM376 214h1v1h-1zM405 214h1v1h-1zM39 215h1v1h-1zM41 215h1v1h-1zM43 215h1v1h-1zM45 215h1v1h-1zM47 215h1v1h-1zM49 215h1v1h-1zM51 215h1v1h-1zM53 215h1v1h-1zM55 215h1v1h-1zM57 215h1v1h-1zM59 215h1v1h-1zM61 215h1v1h-1zM63 215h1v1h-1zM65 215h1v1h-1zM67 215h1v1h-1zM69 215h1v1h-1zM71 215h1v1h-1zM73 215h1v1h-1zM75 215h1v1h-1zM77 215h1v1h-1zM79 215h1v1h-1zM81 215h1v1h-1zM83 215h1v1h-1zM85 215h1v1h-1zM87 215h1v1h-1zM95 215h1v1h-1zM97 215h1v1h-1zM99 215h1v1h-1zM101 215h1v1h-1zM103 215h1v1h-1zM105 215h1v1h-1zM107 215h1v1h-1zM109 215h1v1h-1zM111 215h1v1h-1zM113 215h1v1h-1zM115 215h1v1h-1zM117 215h1v1h-1zM119 215h1v1h-1zM121 215h1v1h-1zM123 215h1v1h-1zM125 215h1v1h-1zM127 215h1v1h-1zM129 215h1v1h-1zM131 215h1v1h-1zM133 215h1v1h-1zM135 215h1v1h-1zM137 215h1v1h-1zM139 215h1v1h-1zM141 215h1v1h-1zM143 215h1v1h-1zM145 215h1v1h-1zM147 215h1v1h-1zM149 215h1v1h-1zM151 215h1v1h-1zM153 215h1v1h-1zM155 215h1v1h-1zM157 215h1v1h-1zM159 215h1v1h-1zM161 215h1v1h-1zM163 215h1v1h-1zM165 215h1v1h-1zM167 215h1v1h-1zM169 215h1v1h-1zM171 215h1v1h-1zM173 215h1v1h-1zM175 215h1v1h-1zM177 215h1v1h-1zM179 215h1v1h-1zM181 215h1v1h-1zM183 215h1v1h-1zM185 215h1v1h-1zM187 215h1v1h-1zM189 215h1v1h-1zM191 215h1v1h-1zM193 215h1v1h-1zM195 215h1v1h-1zM197 215h1v1h-1zM199 215h1v1h-1zM205 215h1v1h-1zM207 215h1v1h-1zM209 215h1v1h-1zM211 215h1v1h-1zM213 215h1v1h-1zM215 215h1v1h-1zM217 215h1v1h-1zM223 215h1v1h-1zM225 215h1v1h-1zM227 215h1v1h-1zM229 215h1v1h-1zM231 215h1v1h-1zM233 215h1v1h-1zM235 215h1v1h-1zM237 215h1v1h-1zM239 215h1v1h-1zM241 215h1v1h-1zM243 215h1v1h-1zM245 215h1v1h-1zM247 215h1v1h-1zM249 215h1v1h-1zM251 215h1v1h-1zM253 215h1v1h-1zM255 215h1v1h-1zM257 215h1v1h-1zM259 215h1v1h-1zM261 215h1v1h-1zM263 215h1v1h-1zM265 215h1v1h-1zM269 215h1v1h-1zM271 215h1v1h-1zM273 215h1v1h-1zM275 215h1v1h-1zM277 215h1v1h-1zM279 215h1v1h-1zM281 215h1v1h-1zM283 215h1v1h-1zM285 215h1v1h-1zM287 215h1v1h-1zM289 215h1v1h-1zM291 215h1v1h-1zM293 215h1v1h-1zM295 215h1v1h-1zM297 215h1v1h-1zM299 215h1v1h-1zM301 215h1v1h-1zM303 215h1v1h-1zM305 215h1v1h-1zM307 215h1v1h-1zM309 215h1v1h-1zM311 215h1v1h-1zM313 215h1v1h-1zM317 215h1v1h-1zM319 215h1v1h-1zM321 215h1v1h-1zM323 215h1v1h-1zM325 215h1v1h-1zM327 215h1v1h-1zM329 215h1v1h-1zM331 215h1v1h-1zM333 215h1v1h-1zM335 215h1v1h-1zM337 215h1v1h-1zM339 215h1v1h-1zM341 215h1v1h-1zM343 215h1v1h-1zM345 215h1v1h-1zM347 215h1v1h-1zM349 215h1v1h-1zM351 215h1v1h-1zM353 215h1v1h-1zM355 215h1v1h-1zM357 215h1v1h-1zM359 215h1v1h-1zM361 215h1v1h-1zM363 215h1v1h-1zM365 215h1v1h-1zM367 215h1v1h-1zM369 215h1v1h-1zM371 215h1v1h-1zM373 215h1v1h-1zM375 215h1v1h-1zM377 215h1v1h-1zM379 215h1v1h-1zM383 215h1v1h-1zM389 215h1v1h-1zM391 215h1v1h-1zM393 215h1v1h-1zM395 215h1v1h-1zM397 215h1v1h-1zM399 215h1v1h-1zM401 215h1v1h-1zM403 215h1v1h-1zM405 215h1v1h-1zM407 215h1v1h-1zM409 215h1v1h-1zM411 215h1v1h-1zM413 215h1v1h-1zM415 215h1v1h-1zM417 215h1v1h-1zM419 215h1v1h-1zM421 215h1v1h-1zM423 215h1v1h-1zM425 215h1v1h-1zM427 215h1v1h-1zM429 215h1v1h-1zM63 216h1v1h-1zM120 216h1v1h-1zM149 216h1v1h-1zM177 216h1v1h-1zM206 216h1v1h-1zM234 216h1v1h-1zM262 216h1v1h-1zM291 216h1v1h-1zM319 216h1v1h-1zM348 216h1v1h-1zM376 216h1v1h-1zM405 216h1v1h-1zM92 218h1v1h-1zM120 218h1v1h-1zM149 218h1v1h-1zM177 218h1v1h-1zM206 218h1v1h-1zM291 218h1v1h-1zM348 218h1v1h-1zM405 218h1v1h-1zM92 220h1v1h-1zM120 220h1v1h-1zM149 220h1v1h-1zM177 220h1v1h-1zM206 220h1v1h-1zM291 220h1v1h-1zM348 220h1v1h-1zM405 220h1v1h-1zM92 222h1v1h-1zM120 222h1v1h-1zM149 222h1v1h-1zM177 222h1v1h-1zM206 222h1v1h-1zM291 222h1v1h-1zM348 222h1v1h-1zM405 222h1v1h-1zM63 224h1v1h-1zM92 224h1v1h-1zM120 224h1v1h-1zM149 224h1v1h-1zM177 224h1v1h-1zM206 224h1v1h-1zM234 224h1v1h-1zM262 224h1v1h-1zM291 224h1v1h-1zM319 224h1v1h-1zM376 224h1v1h-1zM405 224h1v1h-1zM63 226h1v1h-1zM92 226h1v1h-1zM120 226h1v1h-1zM149 226h1v1h-1zM177 226h1v1h-1zM206 226h1v1h-1zM234 226h1v1h-1zM262 226h1v1h-1zM291 226h1v1h-1zM319 226h1v1h-1zM376 226h1v1h-1zM405 226h1v1h-1zM63 228h1v1h-1zM92 228h1v1h-1zM120 228h1v1h-1zM149 228h1v1h-1zM177 228h1v1h-1zM206 228h1v1h-1zM234 228h1v1h-1zM262 228h1v1h-1zM291 228h1v1h-1zM319 228h1v1h-1zM376 228h1v1h-1zM405 228h1v1h-1zM63 230h1v1h-1zM92 230h1v1h-1zM120 230h1v1h-1zM149 230h1v1h-1zM177 230h1v1h-1zM206 230h1v1h-1zM234 230h1v1h-1zM262 230h1v1h-1zM291 230h1v1h-1zM319 230h1v1h-1zM348 230h1v1h-1zM405 230h1v1h-1zM63 232h1v1h-1zM92 232h1v1h-1zM120 232h1v1h-1zM149 232h1v1h-1zM177 232h1v1h-1zM206 232h1v1h-1zM234 232h1v1h-1zM262 232h1v1h-1zM291 232h1v1h-1zM319 232h1v1h-1zM348 232h1v1h-1zM405 232h1v1h-1zM63 234h1v1h-1zM92 234h1v1h-1zM120 234h1v1h-1zM149 234h1v1h-1zM177 234h1v1h-1zM206 234h1v1h-1zM234 234h1v1h-1zM262 234h1v1h-1zM291 234h1v1h-1zM319 234h1v1h-1zM348 234h1v1h-1zM405 234h1v1h-1zM63 236h1v1h-1zM92 236h1v1h-1zM149 236h1v1h-1zM177 236h1v1h-1zM206 236h1v1h-1zM234 236h1v1h-1zM262 236h1v1h-1zM291 236h1v1h-1zM319 236h1v1h-1zM348 236h1v1h-1zM376 236h1v1h-1zM405 236h1v1h-1zM63 238h1v1h-1zM92 238h1v1h-1zM149 238h1v1h-1zM177 238h1v1h-1zM206 238h1v1h-1zM234 238h1v1h-1zM262 238h1v1h-1zM291 238h1v1h-1zM319 238h1v1h-1zM348 238h1v1h-1zM376 238h1v1h-1zM405 238h1v1h-1zM63 240h1v1h-1zM92 240h1v1h-1zM149 240h1v1h-1zM177 240h1v1h-1zM206 240h1v1h-1zM234 240h1v1h-1zM262 240h1v1h-1zM291 240h1v1h-1zM319 240h1v1h-1zM348 240h1v1h-1zM376 240h1v1h-1zM405 240h1v1h-1zM39 242h1v1h-1zM41 242h1v1h-1zM43 242h1v1h-1zM45 242h1v1h-1zM47 242h1v1h-1zM49 242h1v1h-1zM51 242h1v1h-1zM53 242h1v1h-1zM55 242h1v1h-1zM57 242h1v1h-1zM59 242h1v1h-1zM61 242h1v1h-1zM63 242h1v1h-1zM65 242h1v1h-1zM67 242h1v1h-1zM69 242h1v1h-1zM71 242h1v1h-1zM73 242h1v1h-1zM75 242h1v1h-1zM77 242h1v1h-1zM79 242h1v1h-1zM81 242h1v1h-1zM83 242h1v1h-1zM85 242h1v1h-1zM87 242h1v1h-1zM89 242h1v1h-1zM91 242h3v1h-3zM95 242h1v1h-1zM97 242h1v1h-1zM99 242h1v1h-1zM101 242h1v1h-1zM103 242h1v1h-1zM105 242h1v1h-1zM107 242h1v1h-1zM109 242h1v1h-1zM111 242h1v1h-1zM113 242h1v1h-1zM115 242h1v1h-1zM117 242h1v1h-1zM119 242h3v1h-3zM123 242h1v1h-1zM125 242h1v1h-1zM127 242h1v1h-1zM129 242h1v1h-1zM141 242h1v1h-1zM143 242h1v1h-1zM145 242h1v1h-1zM147 242h1v1h-1zM151 242h1v1h-1zM153 242h1v1h-1zM155 242h1v1h-1zM157 242h1v1h-1zM159 242h1v1h-1zM161 242h1v1h-1zM163 242h1v1h-1zM165 242h1v1h-1zM167 242h1v1h-1zM169 242h1v1h-1zM171 242h1v1h-1zM173 242h1v1h-1zM175 242h1v1h-1zM177 242h1v1h-1zM179 242h1v1h-1zM181 242h1v1h-1zM185 242h1v1h-1zM187 242h1v1h-1zM189 242h1v1h-1zM191 242h1v1h-1zM193 242h1v1h-1zM195 242h1v1h-1zM197 242h1v1h-1zM199 242h1v1h-1zM201 242h1v1h-1zM203 242h1v1h-1zM205 242h3v1h-3zM209 242h1v1h-1zM211 242h1v1h-1zM213 242h1v1h-1zM215 242h1v1h-1zM217 242h1v1h-1zM219 242h1v1h-1zM221 242h1v1h-1zM223 242h1v1h-1zM225 242h1v1h-1zM227 242h1v1h-1zM229 242h1v1h-1zM231 242h1v1h-1zM233 242h3v1h-3zM237 242h1v1h-1zM239 242h1v1h-1zM241 242h1v1h-1zM243 242h1v1h-1zM245 242h1v1h-1zM247 242h1v1h-1zM249 242h1v1h-1zM251 242h1v1h-1zM253 242h1v1h-1zM255 242h1v1h-1zM257 242h1v1h-1zM259 242h1v1h-1zM261 242h3v1h-3zM265 242h1v1h-1zM267 242h1v1h-1zM269 242h1v1h-1zM271 242h1v1h-1zM273 242h1v1h-1zM275 242h1v1h-1zM277 242h1v1h-1zM279 242h1v1h-1zM281 242h1v1h-1zM283 242h1v1h-1zM285 242h1v1h-1zM287 242h1v1h-1zM289 242h1v1h-1zM291 242h1v1h-1zM293 242h1v1h-1zM295 242h1v1h-1zM297 242h1v1h-1zM299 242h1v1h-1zM301 242h1v1h-1zM303 242h1v1h-1zM305 242h1v1h-1zM307 242h1v1h-1zM309 242h1v1h-1zM311 242h1v1h-1zM313 242h1v1h-1zM315 242h1v1h-1zM317 242h1v1h-1zM319 242h1v1h-1zM321 242h1v1h-1zM323 242h1v1h-1zM325 242h1v1h-1zM327 242h1v1h-1zM329 242h1v1h-1zM331 242h1v1h-1zM333 242h1v1h-1zM335 242h1v1h-1zM337 242h1v1h-1zM339 242h1v1h-1zM341 242h1v1h-1zM343 242h1v1h-1zM345 242h1v1h-1zM347 242h3v1h-3zM351 242h1v1h-1zM353 242h1v1h-1zM355 242h1v1h-1zM357 242h1v1h-1zM359 242h1v1h-1zM361 242h1v1h-1zM363 242h1v1h-1zM365 242h1v1h-1zM367 242h1v1h-1zM369 242h1v1h-1zM371 242h1v1h-1zM373 242h1v1h-1zM375 242h3v1h-3zM379 242h1v1h-1zM381 242h1v1h-1zM383 242h1v1h-1zM385 242h1v1h-1zM387 242h1v1h-1zM389 242h1v1h-1zM391 242h1v1h-1zM393 242h1v1h-1zM395 242h1v1h-1zM397 242h1v1h-1zM399 242h1v1h-1zM401 242h1v1h-1zM403 242h1v1h-1zM405 242h1v1h-1zM407 242h1v1h-1zM409 242h1v1h-1zM411 242h1v1h-1zM413 242h1v1h-1zM415 242h1v1h-1zM417 242h1v1h-1zM419 242h1v1h-1zM421 242h1v1h-1zM423 242h1v1h-1zM425 242h1v1h-1zM427 242h1v1h-1zM429 242h1v1h-1zM63 244h1v1h-1zM92 244h1v1h-1zM120 244h1v1h-1zM177 244h1v1h-1zM206 244h1v1h-1zM234 244h1v1h-1zM262 244h1v1h-1zM291 244h1v1h-1zM319 244h1v1h-1zM348 244h1v1h-1zM376 244h1v1h-1zM405 244h1v1h-1zM63 246h1v1h-1zM92 246h1v1h-1zM120 246h1v1h-1zM177 246h1v1h-1zM206 246h1v1h-1zM234 246h1v1h-1zM262 246h1v1h-1zM291 246h1v1h-1zM319 246h1v1h-1zM348 246h1v1h-1zM376 246h1v1h-1zM405 246h1v1h-1zM63 248h1v1h-1zM92 248h1v1h-1zM120 248h1v1h-1zM149 248h1v1h-1zM177 248h1v1h-1zM206 248h1v1h-1zM234 248h1v1h-1zM262 248h1v1h-1zM291 248h1v1h-1zM319 248h1v1h-1zM348 248h1v1h-1zM376 248h1v1h-1zM405 248h1v1h-1zM120 250h1v1h-1zM149 250h1v1h-1zM206 250h1v1h-1zM234 250h1v1h-1zM262 250h1v1h-1zM291 250h1v1h-1zM348 250h1v1h-1zM376 250h1v1h-1zM405 250h1v1h-1zM120 252h1v1h-1zM149 252h1v1h-1zM206 252h1v1h-1zM234 252h1v1h-1zM262 252h1v1h-1zM291 252h1v1h-1zM348 252h1v1h-1zM376 252h1v1h-1zM405 252h1v1h-1zM120 254h1v1h-1zM149 254h1v1h-1zM206 254h1v1h-1zM234 254h1v1h-1zM262 254h1v1h-1zM291 254h1v1h-1zM348 254h1v1h-1zM376 254h1v1h-1zM405 254h1v1h-1zM63 256h1v1h-1zM92 256h1v1h-1zM120 256h1v1h-1zM149 256h1v1h-1zM177 256h1v1h-1zM206 256h1v1h-1zM234 256h1v1h-1zM262 256h1v1h-1zM291 256h1v1h-1zM319 256h1v1h-1zM348 256h1v1h-1zM376 256h1v1h-1zM405 256h1v1h-1zM63 258h1v1h-1zM92 258h1v1h-1zM120 258h1v1h-1zM149 258h1v1h-1zM177 258h1v1h-1zM206 258h1v1h-1zM234 258h1v1h-1zM262 258h1v1h-1zM291 258h1v1h-1zM319 258h1v1h-1zM348 258h1v1h-1zM376 258h1v1h-1zM405 258h1v1h-1zM63 260h1v1h-1zM92 260h1v1h-1zM120 260h1v1h-1zM149 260h1v1h-1zM177 260h1v1h-1zM206 260h1v1h-1zM234 260h1v1h-1zM262 260h1v1h-1zM291 260h1v1h-1zM319 260h1v1h-1zM348 260h1v1h-1zM376 260h1v1h-1zM405 260h1v1h-1zM63 262h1v1h-1zM92 262h1v1h-1zM120 262h1v1h-1zM149 262h1v1h-1zM177 262h1v1h-1zM206 262h1v1h-1zM234 262h1v1h-1zM262 262h1v1h-1zM291 262h1v1h-1zM319 262h1v1h-1zM348 262h1v1h-1zM376 262h1v1h-1zM405 262h1v1h-1zM63 264h1v1h-1zM92 264h1v1h-1zM120 264h1v1h-1zM149 264h1v1h-1zM177 264h1v1h-1zM206 264h1v1h-1zM234 264h1v1h-1zM262 264h1v1h-1zM291 264h1v1h-1zM319 264h1v1h-1zM348 264h1v1h-1zM376 264h1v1h-1zM405 264h1v1h-1zM63 266h1v1h-1zM92 266h1v1h-1zM120 266h1v1h-1zM149 266h1v1h-1zM177 266h1v1h-1zM206 266h1v1h-1zM234 266h1v1h-1zM262 266h1v1h-1zM291 266h1v1h-1zM319 266h1v1h-1zM348 266h1v1h-1zM376 266h1v1h-1zM405 266h1v1h-1z"/><path fill="#000" d="M35 49h399v1h-399zM35 50h1v1h-1zM63 50h1v1h-1zM92 50h1v1h-1zM120 50h1v1h-1zM149 50h1v1h-1zM177 50h1v1h-1zM206 50h1v1h-1zM234 50h1v1h-1zM262 50h1v1h-1zM291 50h1v1h-1zM319 50h1v1h-1zM348 50h1v1h-1zM376 50h1v1h-1zM405 50h1v1h-1zM433 50h1v1h-1zM35 51h1v1h-1zM63 51h1v1h-1zM92 51h1v1h-1zM120 51h1v1h-1zM149 51h1v1h-1zM177 51h1v1h-1zM206 51h1v1h-1zM234 51h1v1h-1zM262 51h1v1h-1zM291 51h1v1h-1zM319 51h1v1h-1zM348 51h1v1h-1zM376 51h1v1h-1zM405 51h1v1h-1zM433 51h1v1h-1zM35 52h1v1h-1zM63 52h1v1h-1zM92 52h1v1h-1zM120 52h1v1h-1zM149 52h1v1h-1zM177 52h1v1h-1zM206 52h1v1h-1zM234 52h1v1h-1zM262 52h1v1h-1zM291 52h1v1h-1zM319 52h1v1h-1zM348 52h1v1h-1zM376 52h1v1h-1zM405 52h1v1h-1zM433 52h1v1h-1zM35 53h1v1h-1zM433 53h1v1h-1zM35 54h1v1h-1zM433 54h1v1h-1zM35 55h1v1h-1zM433 55h1v1h-1zM35 56h1v1h-1zM433 56h1v1h-1zM35 57h1v1h-1zM433 57h1v1h-1zM35 58h1v1h-1zM433 58h1v1h-1zM35 59h1v1h-1zM433 59h1v1h-1zM35 60h1v1h-1zM433 60h1v1h-1zM35 61h1v1h-1zM433 61h1v1h-1zM35 62h1v1h-1zM433 62h1v1h-1zM35 63h1v1h-1zM433 63h1v1h-1zM35 64h1v1h-1zM233 64h2v1h-2zM405 64h1v1h-1zM433 64h1v1h-1zM35 65h1v1h-1zM404 65h1v1h-1zM406 65h1v1h-1zM433 65h1v1h-1zM35 66h1v1h-1zM232 66h1v1h-1zM235 66h1v1h-1zM403 66h1v1h-1zM407 66h1v1h-1zM433 66h1v1h-1zM35 67h1v1h-1zM402 67h1v1h-1zM408 67h1v1h-1zM433 67h1v1h-1zM35 68h1v1h-1zM231 68h1v1h-1zM236 68h1v1h-1zM403 68h1v1h-1zM407 68h1v1h-1zM433 68h1v1h-1zM35 69h1v1h-1zM231 69h6v1h-6zM404 69h1v1h-1zM406 69h1v1h-1zM433 69h1v1h-1zM35 70h1v1h-1zM235 70h1v1h-1zM403 70h1v1h-1zM405 70h1v1h-1zM433 70h1v1h-1zM35 71h1v1h-1zM235 71h1v1h-1zM433 71h1v1h-1zM35 72h1v1h-1zM226 72h1v1h-1zM236 72h1v1h-1zM433 72h1v1h-1zM35 73h1v1h-1zM225 73h1v1h-1zM236 73h1v1h-1zM402 73h1v1h-1zM433 73h1v1h-1zM35 74h1v1h-1zM223 74h2v1h-2zM236 74h1v1h-1zM433 74h1v1h-1zM35 75h1v1h-1zM222 75h1v1h-1zM236 75h1v1h-1zM433 75h1v1h-1zM35 76h1v1h-1zM221 76h1v1h-1zM237 76h1v1h-1zM400 76h1v1h-1zM433 76h1v1h-1zM35 77h4v1h-4zM219 77h2v1h-2zM237 77h1v1h-1zM430 77h4v1h-4zM35 78h1v1h-1zM218 78h1v1h-1zM237 78h1v1h-1zM433 78h1v1h-1zM35 79h1v1h-1zM216 79h2v1h-2zM238 79h1v1h-1zM399 79h1v1h-1zM433 79h1v1h-1zM35 80h1v1h-1zM215 80h1v1h-1zM238 80h1v1h-1zM433 80h1v1h-1zM35 81h1v1h-1zM213 81h2v1h-2zM238 81h1v1h-1zM433 81h1v1h-1zM35 82h1v1h-1zM212 82h1v1h-1zM239 82h1v1h-1zM397 82h1v1h-1zM433 82h1v1h-1zM35 83h1v1h-1zM203 83h6v1h-6zM210 83h2v1h-2zM239 83h1v1h-1zM433 83h1v1h-1zM35 84h1v1h-1zM203 84h1v1h-1zM207 84h3v1h-3zM239 84h1v1h-1zM433 84h1v1h-1zM35 85h1v1h-1zM203 85h2v1h-2zM207 85h2v1h-2zM239 85h1v1h-1zM396 85h1v1h-1zM433 85h1v1h-1zM35 86h1v1h-1zM203 86h1v1h-1zM209 86h1v1h-1zM240 86h1v1h-1zM433 86h1v1h-1zM35 87h1v1h-1zM203 87h1v1h-1zM208 87h1v1h-1zM240 87h1v1h-1zM433 87h1v1h-1zM35 88h1v1h-1zM203 88h6v1h-6zM240 88h1v1h-1zM394 88h1v1h-1zM433 88h1v1h-1zM35 89h1v1h-1zM204 89h1v1h-1zM206 89h1v1h-1zM241 89h1v1h-1zM433 89h1v1h-1zM35 90h1v1h-1zM209 90h1v1h-1zM241 90h1v1h-1zM433 90h1v1h-1zM35 91h1v1h-1zM203 91h1v1h-1zM241 91h1v1h-1zM393 91h1v1h-1zM433 91h1v1h-1zM35 92h1v1h-1zM201 92h1v1h-1zM433 92h1v1h-1zM35 93h1v1h-1zM201 93h1v1h-1zM209 93h1v1h-1zM211 93h1v1h-1zM433 93h1v1h-1zM35 94h1v1h-1zM200 94h1v1h-1zM202 94h1v1h-1zM209 94h1v1h-1zM391 94h1v1h-1zM433 94h1v1h-1zM35 95h1v1h-1zM199 95h1v1h-1zM209 95h1v1h-1zM433 95h1v1h-1zM35 96h1v1h-1zM210 96h1v1h-1zM214 96h1v1h-1zM433 96h1v1h-1zM35 97h1v1h-1zM200 97h1v1h-1zM389 97h1v1h-1zM433 97h1v1h-1zM35 98h1v1h-1zM200 98h1v1h-1zM433 98h1v1h-1zM35 99h1v1h-1zM199 99h1v1h-1zM216 99h1v1h-1zM433 99h1v1h-1zM35 100h1v1h-1zM195 100h1v1h-1zM199 100h1v1h-1zM244 100h1v1h-1zM388 100h1v1h-1zM433 100h1v1h-1zM35 101h1v1h-1zM92 101h1v1h-1zM149 101h1v1h-1zM194 101h1v1h-1zM198 101h1v1h-1zM212 101h1v1h-1zM244 101h1v1h-1zM433 101h1v1h-1zM35 102h1v1h-1zM91 102h1v1h-1zM93 102h1v1h-1zM148 102h1v1h-1zM150 102h1v1h-1zM193 102h1v1h-1zM198 102h1v1h-1zM212 102h1v1h-1zM218 102h1v1h-1zM245 102h1v1h-1zM433 102h1v1h-1zM35 103h1v1h-1zM90 103h1v1h-1zM94 103h1v1h-1zM147 103h1v1h-1zM151 103h1v1h-1zM193 103h1v1h-1zM197 103h1v1h-1zM212 103h1v1h-1zM245 103h1v1h-1zM386 103h1v1h-1zM433 103h1v1h-1zM35 104h4v1h-4zM89 104h1v1h-1zM95 104h1v1h-1zM146 104h1v1h-1zM152 104h1v1h-1zM197 104h1v1h-1zM213 104h1v1h-1zM245 104h1v1h-1zM430 104h4v1h-4zM35 105h1v1h-1zM90 105h1v1h-1zM94 105h1v1h-1zM147 105h1v1h-1zM151 105h1v1h-1zM196 105h1v1h-1zM220 105h1v1h-1zM245 105h1v1h-1zM433 105h1v1h-1zM35 106h1v1h-1zM91 106h1v1h-1zM93 106h1v1h-1zM148 106h1v1h-1zM150 106h1v1h-1zM195 106h1v1h-1zM246 106h1v1h-1zM385 106h1v1h-1zM433 106h1v1h-1zM35 107h1v1h-1zM92 107h1v1h-1zM147 107h1v1h-1zM149 107h1v1h-1zM151 107h1v1h-1zM195 107h1v1h-1zM246 107h1v1h-1zM433 107h1v1h-1zM35 108h1v1h-1zM94 108h1v1h-1zM189 108h1v1h-1zM194 108h1v1h-1zM223 108h1v1h-1zM246 108h1v1h-1zM433 108h1v1h-1zM35 109h1v1h-1zM89 109h1v1h-1zM188 109h1v1h-1zM194 109h1v1h-1zM215 109h1v1h-1zM247 109h1v1h-1zM383 109h1v1h-1zM433 109h1v1h-1zM35 110h1v1h-1zM146 110h1v1h-1zM154 110h1v1h-1zM187 110h1v1h-1zM193 110h1v1h-1zM215 110h1v1h-1zM247 110h1v1h-1zM433 110h1v1h-1zM35 111h1v1h-1zM96 111h1v1h-1zM186 111h1v1h-1zM193 111h1v1h-1zM215 111h1v1h-1zM225 111h1v1h-1zM247 111h1v1h-1zM433 111h1v1h-1zM35 112h1v1h-1zM88 112h1v1h-1zM192 112h1v1h-1zM216 112h1v1h-1zM248 112h1v1h-1zM382 112h1v1h-1zM433 112h1v1h-1zM35 113h1v1h-1zM144 113h1v1h-1zM156 113h1v1h-1zM192 113h1v1h-1zM248 113h1v1h-1zM433 113h1v1h-1zM35 114h1v1h-1zM97 114h1v1h-1zM191 114h1v1h-1zM227 114h1v1h-1zM248 114h1v1h-1zM433 114h1v1h-1zM35 115h1v1h-1zM86 115h1v1h-1zM191 115h1v1h-1zM248 115h1v1h-1zM380 115h1v1h-1zM433 115h1v1h-1zM35 116h1v1h-1zM143 116h1v1h-1zM158 116h1v1h-1zM182 116h1v1h-1zM190 116h1v1h-1zM249 116h1v1h-1zM433 116h1v1h-1zM35 117h1v1h-1zM99 117h1v1h-1zM182 117h1v1h-1zM190 117h1v1h-1zM218 117h1v1h-1zM229 117h1v1h-1zM249 117h1v1h-1zM433 117h1v1h-1zM35 118h1v1h-1zM85 118h1v1h-1zM181 118h1v1h-1zM189 118h1v1h-1zM218 118h1v1h-1zM249 118h1v1h-1zM379 118h1v1h-1zM433 118h1v1h-1zM35 119h1v1h-1zM141 119h1v1h-1zM160 119h1v1h-1zM180 119h1v1h-1zM189 119h1v1h-1zM218 119h1v1h-1zM250 119h1v1h-1zM433 119h1v1h-1zM35 120h1v1h-1zM100 120h1v1h-1zM146 120h6v1h-6zM174 120h6v1h-6zM188 120h1v1h-1zM219 120h1v1h-1zM232 120h1v1h-1zM234 120h1v1h-1zM250 120h1v1h-1zM262 120h1v1h-1zM376 120h1v1h-1zM402 120h6v1h-6zM433 120h1v1h-1zM35 121h1v1h-1zM83 121h1v1h-1zM146 121h1v1h-1zM151 121h1v1h-1zM174 121h1v1h-1zM179 121h1v1h-1zM188 121h1v1h-1zM233 121h1v1h-1zM235 121h1v1h-1zM250 121h1v1h-1zM261 121h1v1h-1zM263 121h1v1h-1zM375 121h1v1h-1zM377 121h1v1h-1zM402 121h1v1h-1zM407 121h1v1h-1zM433 121h1v1h-1zM35 122h1v1h-1zM140 122h1v1h-1zM146 122h1v1h-1zM151 122h1v1h-1zM163 122h1v1h-1zM174 122h1v1h-1zM179 122h1v1h-1zM232 122h1v1h-1zM236 122h1v1h-1zM251 122h1v1h-1zM260 122h1v1h-1zM264 122h1v1h-1zM374 122h1v1h-1zM378 122h1v1h-1zM402 122h1v1h-1zM407 122h1v1h-1zM433 122h1v1h-1zM35 123h1v1h-1zM102 123h1v1h-1zM146 123h1v1h-1zM151 123h2v1h-2zM157 123h4v1h-4zM165 123h4v1h-4zM173 123h2v1h-2zM179 123h1v1h-1zM231 123h1v1h-1zM237 123h1v1h-1zM240 123h1v1h-1zM243 123h1v1h-1zM246 123h1v1h-1zM249 123h1v1h-1zM251 123h2v1h-2zM255 123h1v1h-1zM258 123h2v1h-2zM265 123h1v1h-1zM373 123h1v1h-1zM379 123h1v1h-1zM402 123h1v1h-1zM407 123h1v1h-1zM433 123h1v1h-1zM35 124h1v1h-1zM82 124h1v1h-1zM146 124h1v1h-1zM151 124h1v1h-1zM174 124h1v1h-1zM179 124h1v1h-1zM186 124h1v1h-1zM232 124h1v1h-1zM236 124h1v1h-1zM260 124h1v1h-1zM264 124h1v1h-1zM374 124h1v1h-1zM378 124h1v1h-1zM402 124h1v1h-1zM407 124h1v1h-1zM433 124h1v1h-1zM35 125h1v1h-1zM138 125h1v1h-1zM146 125h6v1h-6zM165 125h1v1h-1zM174 125h6v1h-6zM221 125h1v1h-1zM233 125h1v1h-1zM235 125h1v1h-1zM261 125h1v1h-1zM263 125h1v1h-1zM375 125h1v1h-1zM377 125h1v1h-1zM402 125h6v1h-6zM433 125h1v1h-1zM35 126h1v1h-1zM103 126h1v1h-1zM221 126h1v1h-1zM234 126h1v1h-1zM262 126h1v1h-1zM267 126h1v1h-1zM376 126h1v1h-1zM404 126h1v1h-1zM433 126h1v1h-1zM35 127h1v1h-1zM80 127h1v1h-1zM184 127h1v1h-1zM222 127h1v1h-1zM374 127h1v1h-1zM404 127h1v1h-1zM433 127h1v1h-1zM35 128h1v1h-1zM137 128h1v1h-1zM146 128h1v1h-1zM167 128h1v1h-1zM222 128h1v1h-1zM270 128h1v1h-1zM404 128h1v1h-1zM433 128h1v1h-1zM35 129h1v1h-1zM105 129h1v1h-1zM146 129h1v1h-1zM403 129h1v1h-1zM433 129h1v1h-1zM35 130h1v1h-1zM79 130h1v1h-1zM145 130h1v1h-1zM183 130h1v1h-1zM273 130h1v1h-1zM373 130h1v1h-1zM433 130h1v1h-1zM35 131h1v1h-1zM135 131h1v1h-1zM145 131h1v1h-1zM169 131h1v1h-1zM182 131h1v1h-1zM433 131h1v1h-1zM35 132h4v1h-4zM106 132h1v1h-1zM182 132h1v1h-1zM254 132h1v1h-1zM276 132h1v1h-1zM430 132h4v1h-4zM35 133h1v1h-1zM77 133h1v1h-1zM181 133h1v1h-1zM224 133h1v1h-1zM254 133h1v1h-1zM372 133h1v1h-1zM433 133h1v1h-1zM35 134h1v1h-1zM133 134h1v1h-1zM172 134h1v1h-1zM181 134h1v1h-1zM224 134h1v1h-1zM254 134h1v1h-1zM279 134h1v1h-1zM402 134h1v1h-1zM433 134h1v1h-1zM35 135h1v1h-1zM108 135h1v1h-1zM180 135h1v1h-1zM225 135h1v1h-1zM254 135h1v1h-1zM282 135h1v1h-1zM402 135h1v1h-1zM433 135h1v1h-1zM35 136h1v1h-1zM75 136h1v1h-1zM142 136h1v1h-1zM180 136h1v1h-1zM225 136h1v1h-1zM255 136h1v1h-1zM371 136h1v1h-1zM402 136h1v1h-1zM433 136h1v1h-1zM35 137h1v1h-1zM132 137h1v1h-1zM142 137h1v1h-1zM174 137h1v1h-1zM179 137h1v1h-1zM255 137h1v1h-1zM285 137h1v1h-1zM401 137h1v1h-1zM433 137h1v1h-1zM35 138h1v1h-1zM109 138h1v1h-1zM141 138h1v1h-1zM176 138h2v1h-2zM179 138h1v1h-1zM255 138h1v1h-1zM288 138h6v1h-6zM345 138h6v1h-6zM433 138h1v1h-1zM35 139h1v1h-1zM74 139h1v1h-1zM141 139h1v1h-1zM178 139h1v1h-1zM256 139h1v1h-1zM288 139h1v1h-1zM290 139h1v1h-1zM292 139h2v1h-2zM345 139h1v1h-1zM350 139h1v1h-1zM370 139h1v1h-1zM433 139h1v1h-1zM35 140h1v1h-1zM130 140h1v1h-1zM175 140h1v1h-1zM178 140h2v1h-2zM256 140h1v1h-1zM288 140h2v1h-2zM293 140h1v1h-1zM345 140h1v1h-1zM350 140h1v1h-1zM433 140h1v1h-1zM35 141h1v1h-1zM111 141h1v1h-1zM174 141h1v1h-1zM180 141h1v1h-1zM227 141h1v1h-1zM256 141h1v1h-1zM288 141h1v1h-1zM294 141h1v1h-1zM345 141h1v1h-1zM350 141h1v1h-1zM433 141h1v1h-1zM35 142h1v1h-1zM72 142h1v1h-1zM174 142h1v1h-1zM179 142h1v1h-1zM227 142h1v1h-1zM257 142h1v1h-1zM288 142h2v1h-2zM293 142h1v1h-1zM345 142h1v1h-1zM350 142h1v1h-1zM369 142h1v1h-1zM400 142h1v1h-1zM433 142h1v1h-1zM35 143h1v1h-1zM129 143h1v1h-1zM174 143h6v1h-6zM228 143h1v1h-1zM257 143h1v1h-1zM288 143h3v1h-3zM292 143h2v1h-2zM345 143h6v1h-6zM400 143h1v1h-1zM433 143h1v1h-1zM35 144h1v1h-1zM112 144h1v1h-1zM138 144h1v1h-1zM172 144h2v1h-2zM177 144h1v1h-1zM228 144h1v1h-1zM257 144h1v1h-1zM289 144h1v1h-1zM291 144h1v1h-1zM293 144h1v1h-1zM346 144h1v1h-1zM399 144h1v1h-1zM433 144h1v1h-1zM35 145h1v1h-1zM71 145h1v1h-1zM137 145h1v1h-1zM171 145h1v1h-1zM257 145h1v1h-1zM289 145h1v1h-1zM293 145h1v1h-1zM346 145h1v1h-1zM349 145h1v1h-1zM368 145h1v1h-1zM399 145h1v1h-1zM433 145h1v1h-1zM35 146h1v1h-1zM127 146h1v1h-1zM137 146h1v1h-1zM169 146h2v1h-2zM258 146h1v1h-1zM288 146h1v1h-1zM294 146h1v1h-1zM350 146h1v1h-1zM433 146h1v1h-1zM35 147h1v1h-1zM114 147h1v1h-1zM136 147h1v1h-1zM168 147h1v1h-1zM258 147h1v1h-1zM288 147h1v1h-1zM296 147h1v1h-1zM350 147h1v1h-1zM433 147h1v1h-1zM35 148h1v1h-1zM69 148h1v1h-1zM166 148h2v1h-2zM258 148h1v1h-1zM350 148h1v1h-1zM366 148h1v1h-1zM433 148h1v1h-1zM35 149h1v1h-1zM126 149h1v1h-1zM165 149h1v1h-1zM230 149h1v1h-1zM259 149h1v1h-1zM433 149h1v1h-1zM35 150h1v1h-1zM115 150h1v1h-1zM230 150h1v1h-1zM259 150h1v1h-1zM298 150h1v1h-1zM343 150h1v1h-1zM398 150h1v1h-1zM433 150h1v1h-1zM35 151h1v1h-1zM68 151h1v1h-1zM231 151h1v1h-1zM259 151h1v1h-1zM296 151h1v1h-1zM343 151h1v1h-1zM365 151h1v1h-1zM398 151h1v1h-1zM433 151h1v1h-1zM35 152h1v1h-1zM124 152h1v1h-1zM134 152h1v1h-1zM231 152h1v1h-1zM260 152h1v1h-1zM285 152h1v1h-1zM297 152h1v1h-1zM342 152h1v1h-1zM397 152h1v1h-1zM433 152h1v1h-1zM35 153h1v1h-1zM117 153h1v1h-1zM133 153h1v1h-1zM260 153h1v1h-1zM285 153h1v1h-1zM297 153h1v1h-1zM300 153h1v1h-1zM342 153h1v1h-1zM352 153h1v1h-1zM397 153h1v1h-1zM433 153h1v1h-1zM35 154h1v1h-1zM66 154h1v1h-1zM133 154h1v1h-1zM260 154h1v1h-1zM284 154h1v1h-1zM298 154h1v1h-1zM352 154h1v1h-1zM364 154h1v1h-1zM433 154h1v1h-1zM35 155h1v1h-1zM123 155h1v1h-1zM132 155h1v1h-1zM156 155h1v1h-1zM260 155h1v1h-1zM284 155h1v1h-1zM352 155h1v1h-1zM433 155h1v1h-1zM35 156h1v1h-1zM118 156h1v1h-1zM155 156h1v1h-1zM302 156h1v1h-1zM353 156h1v1h-1zM433 156h1v1h-1zM35 157h1v1h-1zM63 157h1v1h-1zM65 157h1v1h-1zM120 157h1v1h-1zM148 157h2v1h-2zM153 157h2v1h-2zM231 157h6v1h-6zM261 157h2v1h-2zM290 157h2v1h-2zM363 157h1v1h-1zM375 157h2v1h-2zM433 157h1v1h-1zM35 158h1v1h-1zM62 158h1v1h-1zM64 158h1v1h-1zM119 158h1v1h-1zM121 158h1v1h-1zM152 158h1v1h-1zM231 158h1v1h-1zM236 158h1v1h-1zM339 158h1v1h-1zM396 158h1v1h-1zM433 158h1v1h-1zM35 159h1v1h-1zM61 159h1v1h-1zM65 159h1v1h-1zM118 159h1v1h-1zM122 159h1v1h-1zM147 159h1v1h-1zM150 159h2v1h-2zM231 159h1v1h-1zM236 159h1v1h-1zM260 159h1v1h-1zM263 159h1v1h-1zM289 159h1v1h-1zM292 159h1v1h-1zM300 159h1v1h-1zM305 159h1v1h-1zM339 159h1v1h-1zM374 159h1v1h-1zM377 159h1v1h-1zM396 159h1v1h-1zM433 159h1v1h-1zM35 160h4v1h-4zM60 160h1v1h-1zM66 160h1v1h-1zM117 160h1v1h-1zM123 160h1v1h-1zM129 160h1v1h-1zM231 160h1v1h-1zM236 160h1v1h-1zM266 160h23v1h-23zM301 160h1v1h-1zM338 160h1v1h-1zM362 160h1v1h-1zM395 160h1v1h-1zM430 160h4v1h-4zM35 161h1v1h-1zM61 161h1v1h-1zM65 161h1v1h-1zM118 161h1v1h-1zM122 161h1v1h-1zM129 161h1v1h-1zM146 161h1v1h-1zM151 161h1v1h-1zM231 161h1v1h-1zM236 161h1v1h-1zM259 161h1v1h-1zM264 161h1v1h-1zM280 161h1v1h-1zM288 161h1v1h-1zM293 161h1v1h-1zM301 161h1v1h-1zM337 161h1v1h-1zM354 161h1v1h-1zM373 161h1v1h-1zM378 161h1v1h-1zM395 161h1v1h-1zM433 161h1v1h-1zM35 162h1v1h-1zM62 162h1v1h-1zM64 162h1v1h-1zM119 162h1v1h-1zM121 162h1v1h-1zM128 162h1v1h-1zM145 162h7v1h-7zM231 162h6v1h-6zM259 162h6v1h-6zM280 162h1v1h-1zM288 162h6v1h-6zM302 162h1v1h-1zM307 162h1v1h-1zM354 162h1v1h-1zM373 162h6v1h-6zM433 162h1v1h-1zM35 163h1v1h-1zM63 163h1v1h-1zM120 163h1v1h-1zM128 163h1v1h-1zM144 163h1v1h-1zM279 163h1v1h-1zM355 163h1v1h-1zM361 163h1v1h-1zM371 163h2v1h-2zM381 163h1v1h-1zM433 163h1v1h-1zM35 164h1v1h-1zM142 164h2v1h-2zM355 164h1v1h-1zM370 164h1v1h-1zM382 164h2v1h-2zM433 164h1v1h-1zM35 165h1v1h-1zM141 165h1v1h-1zM238 165h1v1h-1zM309 165h1v1h-1zM368 165h2v1h-2zM384 165h1v1h-1zM433 165h1v1h-1zM35 166h1v1h-1zM139 166h2v1h-2zM239 166h1v1h-1zM335 166h1v1h-1zM360 166h1v1h-1zM366 166h2v1h-2zM385 166h2v1h-2zM394 166h1v1h-1zM433 166h1v1h-1zM35 167h1v1h-1zM137 167h2v1h-2zM239 167h1v1h-1zM293 167h1v1h-1zM304 167h1v1h-1zM334 167h1v1h-1zM365 167h1v1h-1zM387 167h2v1h-2zM393 167h1v1h-1zM433 167h1v1h-1zM35 168h1v1h-1zM125 168h1v1h-1zM136 168h1v1h-1zM240 168h1v1h-1zM277 168h1v1h-1zM293 168h1v1h-1zM305 168h1v1h-1zM311 168h1v1h-1zM334 168h1v1h-1zM363 168h2v1h-2zM389 168h1v1h-1zM393 168h1v1h-1zM433 168h1v1h-1zM35 169h1v1h-1zM125 169h1v1h-1zM134 169h2v1h-2zM276 169h1v1h-1zM294 169h1v1h-1zM305 169h1v1h-1zM333 169h1v1h-1zM357 169h2v1h-2zM362 169h1v1h-1zM390 169h2v1h-2zM393 169h1v1h-1zM433 169h1v1h-1zM35 170h1v1h-1zM124 170h1v1h-1zM133 170h1v1h-1zM276 170h1v1h-1zM294 170h1v1h-1zM306 170h1v1h-1zM357 170h1v1h-1zM360 170h2v1h-2zM392 170h1v1h-1zM433 170h1v1h-1zM35 171h1v1h-1zM124 171h1v1h-1zM275 171h1v1h-1zM294 171h1v1h-1zM314 171h1v1h-1zM357 171h1v1h-1zM359 171h1v1h-1zM393 171h2v1h-2zM433 171h1v1h-1zM35 172h1v1h-1zM295 172h1v1h-1zM357 172h2v1h-2zM395 172h2v1h-2zM433 172h1v1h-1zM35 173h1v1h-1zM244 173h1v1h-1zM295 173h1v1h-1zM356 173h1v1h-1zM397 173h1v1h-1zM433 173h1v1h-1zM35 174h1v1h-1zM245 174h1v1h-1zM295 174h1v1h-1zM316 174h1v1h-1zM331 174h1v1h-1zM354 174h2v1h-2zM392 174h1v1h-1zM398 174h2v1h-2zM433 174h1v1h-1zM35 175h1v1h-1zM117 175h6v1h-6zM246 175h1v1h-1zM296 175h1v1h-1zM308 175h1v1h-1zM319 175h1v1h-1zM330 175h1v1h-1zM347 175h2v1h-2zM352 175h2v1h-2zM356 175h1v1h-1zM391 175h1v1h-1zM400 175h1v1h-1zM404 175h2v1h-2zM433 175h1v1h-1zM35 176h1v1h-1zM117 176h1v1h-1zM122 176h3v1h-3zM246 176h1v1h-1zM273 176h1v1h-1zM296 176h1v1h-1zM309 176h1v1h-1zM318 176h1v1h-1zM320 176h1v1h-1zM330 176h1v1h-1zM351 176h1v1h-1zM391 176h1v1h-1zM401 176h2v1h-2zM433 176h1v1h-1zM35 177h1v1h-1zM117 177h2v1h-2zM121 177h2v1h-2zM272 177h1v1h-1zM296 177h1v1h-1zM309 177h1v1h-1zM317 177h1v1h-1zM321 177h1v1h-1zM329 177h1v1h-1zM346 177h1v1h-1zM349 177h2v1h-2zM359 177h1v1h-1zM391 177h1v1h-1zM403 177h1v1h-1zM406 177h1v1h-1zM433 177h1v1h-1zM35 178h1v1h-1zM117 178h1v1h-1zM122 178h1v1h-1zM271 178h1v1h-1zM296 178h1v1h-1zM310 178h1v1h-1zM316 178h1v1h-1zM322 178h1v1h-1zM355 178h1v1h-1zM359 178h1v1h-1zM433 178h1v1h-1zM35 179h1v1h-1zM117 179h1v1h-1zM122 179h1v1h-1zM271 179h1v1h-1zM297 179h1v1h-1zM317 179h1v1h-1zM321 179h1v1h-1zM345 179h1v1h-1zM350 179h1v1h-1zM360 179h1v1h-1zM402 179h1v1h-1zM407 179h1v1h-1zM433 179h1v1h-1zM35 180h1v1h-1zM117 180h6v1h-6zM297 180h1v1h-1zM318 180h1v1h-1zM320 180h1v1h-1zM345 180h6v1h-6zM360 180h1v1h-1zM402 180h6v1h-6zM433 180h1v1h-1zM35 181h1v1h-1zM119 181h1v1h-1zM250 181h1v1h-1zM290 181h2v1h-2zM297 181h1v1h-1zM319 181h1v1h-1zM324 181h1v1h-1zM354 181h1v1h-1zM433 181h1v1h-1zM35 182h1v1h-1zM114 182h1v1h-1zM118 182h1v1h-1zM251 182h1v1h-1zM289 182h1v1h-1zM292 182h1v1h-1zM298 182h1v1h-1zM326 182h1v1h-1zM389 182h1v1h-1zM433 182h1v1h-1zM35 183h1v1h-1zM112 183h2v1h-2zM118 183h1v1h-1zM252 183h1v1h-1zM288 183h1v1h-1zM293 183h1v1h-1zM298 183h1v1h-1zM312 183h1v1h-1zM326 183h2v1h-2zM389 183h1v1h-1zM433 183h1v1h-1zM35 184h1v1h-1zM111 184h1v1h-1zM118 184h1v1h-1zM253 184h1v1h-1zM268 184h1v1h-1zM288 184h1v1h-1zM293 184h1v1h-1zM298 184h1v1h-1zM313 184h1v1h-1zM325 184h1v1h-1zM353 184h1v1h-1zM389 184h1v1h-1zM433 184h1v1h-1zM35 185h1v1h-1zM117 185h1v1h-1zM268 185h1v1h-1zM289 185h1v1h-1zM292 185h2v1h-2zM299 185h1v1h-1zM313 185h1v1h-1zM325 185h1v1h-1zM330 185h1v1h-1zM361 185h1v1h-1zM389 185h1v1h-1zM433 185h1v1h-1zM35 186h1v1h-1zM117 186h1v1h-1zM267 186h1v1h-1zM289 186h5v1h-5zM299 186h1v1h-1zM314 186h1v1h-1zM345 186h1v1h-1zM362 186h1v1h-1zM433 186h1v1h-1zM35 187h4v1h-4zM106 187h1v1h-1zM117 187h1v1h-1zM267 187h1v1h-1zM288 187h2v1h-2zM293 187h2v1h-2zM299 187h1v1h-1zM333 187h1v1h-1zM344 187h1v1h-1zM351 187h1v1h-1zM362 187h1v1h-1zM430 187h4v1h-4zM35 188h1v1h-1zM104 188h2v1h-2zM116 188h1v1h-1zM287 188h3v1h-3zM293 188h3v1h-3zM300 188h1v1h-1zM344 188h1v1h-1zM362 188h1v1h-1zM433 188h1v1h-1zM35 189h1v1h-1zM103 189h1v1h-1zM116 189h1v1h-1zM257 189h1v1h-1zM286 189h3v1h-3zM294 189h3v1h-3zM300 189h1v1h-1zM336 189h1v1h-1zM344 189h1v1h-1zM433 189h1v1h-1zM35 190h1v1h-1zM115 190h1v1h-1zM257 190h1v1h-1zM286 190h2v1h-2zM295 190h2v1h-2zM300 190h1v1h-1zM322 190h1v1h-1zM339 190h1v1h-1zM343 190h1v1h-1zM350 190h1v1h-1zM387 190h1v1h-1zM433 190h1v1h-1zM35 191h1v1h-1zM115 191h1v1h-1zM258 191h1v1h-1zM285 191h2v1h-2zM296 191h2v1h-2zM316 191h1v1h-1zM322 191h1v1h-1zM343 191h1v1h-1zM387 191h1v1h-1zM433 191h1v1h-1zM35 192h1v1h-1zM98 192h1v1h-1zM115 192h1v1h-1zM259 192h1v1h-1zM264 192h1v1h-1zM284 192h3v1h-3zM296 192h3v1h-3zM317 192h1v1h-1zM321 192h1v1h-1zM342 192h2v1h-2zM387 192h1v1h-1zM433 192h1v1h-1zM35 193h1v1h-1zM60 193h6v1h-6zM89 193h6v1h-6zM96 193h2v1h-2zM114 193h1v1h-1zM259 193h6v1h-6zM283 193h3v1h-3zM297 193h3v1h-3zM316 193h6v1h-6zM342 193h1v1h-1zM348 193h2v1h-2zM364 193h1v1h-1zM387 193h1v1h-1zM433 193h1v1h-1zM35 194h1v1h-1zM60 194h1v1h-1zM65 194h1v1h-1zM89 194h1v1h-1zM94 194h2v1h-2zM114 194h1v1h-1zM259 194h1v1h-1zM264 194h1v1h-1zM282 194h3v1h-3zM298 194h2v1h-2zM316 194h1v1h-1zM321 194h1v1h-1zM342 194h1v1h-1zM345 194h1v1h-1zM347 194h1v1h-1zM349 194h1v1h-1zM364 194h1v1h-1zM433 194h1v1h-1zM35 195h1v1h-1zM60 195h1v1h-1zM65 195h1v1h-1zM89 195h1v1h-1zM94 195h1v1h-1zM114 195h1v1h-1zM259 195h1v1h-1zM264 195h1v1h-1zM282 195h2v1h-2zM299 195h2v1h-2zM316 195h1v1h-1zM321 195h1v1h-1zM341 195h1v1h-1zM346 195h1v1h-1zM350 195h1v1h-1zM364 195h1v1h-1zM433 195h1v1h-1zM35 196h1v1h-1zM60 196h1v1h-1zM65 196h2v1h-2zM71 196h4v1h-4zM79 196h4v1h-4zM87 196h3v1h-3zM94 196h1v1h-1zM113 196h1v1h-1zM259 196h1v1h-1zM264 196h1v1h-1zM281 196h2v1h-2zM299 196h3v1h-3zM316 196h1v1h-1zM321 196h1v1h-1zM341 196h1v1h-1zM345 196h1v1h-1zM351 196h1v1h-1zM365 196h1v1h-1zM433 196h1v1h-1zM35 197h1v1h-1zM60 197h1v1h-1zM65 197h1v1h-1zM89 197h1v1h-1zM94 197h1v1h-1zM113 197h1v1h-1zM259 197h1v1h-1zM264 197h1v1h-1zM280 197h3v1h-3zM300 197h3v1h-3zM316 197h1v1h-1zM321 197h1v1h-1zM341 197h1v1h-1zM346 197h1v1h-1zM350 197h1v1h-1zM433 197h1v1h-1zM35 198h1v1h-1zM60 198h6v1h-6zM89 198h6v1h-6zM259 198h6v1h-6zM279 198h3v1h-3zM301 198h2v1h-2zM316 198h6v1h-6zM340 198h1v1h-1zM347 198h1v1h-1zM349 198h1v1h-1zM385 198h1v1h-1zM433 198h1v1h-1zM35 199h1v1h-1zM278 199h3v1h-3zM302 199h2v1h-2zM340 199h1v1h-1zM348 199h1v1h-1zM385 199h1v1h-1zM433 199h1v1h-1zM35 200h1v1h-1zM278 200h2v1h-2zM302 200h3v1h-3zM339 200h1v1h-1zM385 200h1v1h-1zM404 200h2v1h-2zM433 200h1v1h-1zM35 201h1v1h-1zM277 201h2v1h-2zM303 201h3v1h-3zM339 201h1v1h-1zM366 201h1v1h-1zM384 201h1v1h-1zM403 201h1v1h-1zM406 201h1v1h-1zM433 201h1v1h-1zM35 202h1v1h-1zM276 202h3v1h-3zM304 202h2v1h-2zM339 202h1v1h-1zM367 202h1v1h-1zM402 202h1v1h-1zM407 202h1v1h-1zM433 202h1v1h-1zM35 203h1v1h-1zM275 203h3v1h-3zM304 203h3v1h-3zM338 203h1v1h-1zM367 203h1v1h-1zM402 203h1v1h-1zM407 203h1v1h-1zM433 203h1v1h-1zM35 204h1v1h-1zM275 204h2v1h-2zM304 204h4v1h-4zM338 204h1v1h-1zM367 204h1v1h-1zM402 204h2v1h-2zM406 204h1v1h-1zM433 204h1v1h-1zM35 205h1v1h-1zM274 205h2v1h-2zM305 205h4v1h-4zM337 205h1v1h-1zM400 205h6v1h-6zM433 205h1v1h-1zM35 206h1v1h-1zM109 206h1v1h-1zM205 206h2v1h-2zM273 206h3v1h-3zM305 206h1v1h-1zM307 206h2v1h-2zM337 206h1v1h-1zM383 206h1v1h-1zM399 206h4v1h-4zM433 206h1v1h-1zM35 207h1v1h-1zM109 207h1v1h-1zM204 207h1v1h-1zM207 207h1v1h-1zM272 207h3v1h-3zM305 207h1v1h-1zM308 207h2v1h-2zM337 207h1v1h-1zM383 207h1v1h-1zM397 207h4v1h-4zM433 207h1v1h-1zM35 208h1v1h-1zM109 208h1v1h-1zM203 208h1v1h-1zM208 208h1v1h-1zM271 208h3v1h-3zM306 208h1v1h-1zM308 208h3v1h-3zM336 208h1v1h-1zM383 208h1v1h-1zM396 208h3v1h-3zM433 208h1v1h-1zM35 209h1v1h-1zM108 209h1v1h-1zM203 209h1v1h-1zM208 209h1v1h-1zM271 209h2v1h-2zM306 209h1v1h-1zM309 209h3v1h-3zM336 209h1v1h-1zM369 209h1v1h-1zM382 209h1v1h-1zM394 209h4v1h-4zM433 209h1v1h-1zM35 210h1v1h-1zM108 210h1v1h-1zM204 210h1v1h-1zM207 210h4v1h-4zM270 210h2v1h-2zM306 210h1v1h-1zM310 210h2v1h-2zM369 210h1v1h-1zM392 210h4v1h-4zM433 210h1v1h-1zM35 211h1v1h-1zM108 211h1v1h-1zM204 211h3v1h-3zM209 211h5v1h-5zM269 211h3v1h-3zM307 211h1v1h-1zM311 211h2v1h-2zM369 211h1v1h-1zM391 211h4v1h-4zM433 211h1v1h-1zM35 212h1v1h-1zM91 212h2v1h-2zM107 212h1v1h-1zM203 212h3v1h-3zM211 212h5v1h-5zM268 212h3v1h-3zM307 212h1v1h-1zM311 212h3v1h-3zM370 212h1v1h-1zM389 212h4v1h-4zM433 212h1v1h-1zM35 213h1v1h-1zM90 213h1v1h-1zM93 213h1v1h-1zM107 213h1v1h-1zM203 213h2v1h-2zM213 213h5v1h-5zM267 213h3v1h-3zM307 213h1v1h-1zM312 213h3v1h-3zM387 213h4v1h-4zM433 213h1v1h-1zM35 214h1v1h-1zM89 214h1v1h-1zM94 214h1v1h-1zM106 214h1v1h-1zM202 214h2v1h-2zM216 214h5v1h-5zM267 214h2v1h-2zM307 214h1v1h-1zM313 214h2v1h-2zM381 214h1v1h-1zM386 214h4v1h-4zM433 214h1v1h-1zM35 215h4v1h-4zM88 215h2v1h-2zM94 215h1v1h-1zM106 215h1v1h-1zM201 215h3v1h-3zM218 215h5v1h-5zM266 215h2v1h-2zM308 215h1v1h-1zM314 215h2v1h-2zM381 215h1v1h-1zM384 215h4v1h-4zM430 215h4v1h-4zM35 216h1v1h-1zM83 216h8v1h-8zM93 216h2v1h-2zM106 216h1v1h-1zM201 216h2v1h-2zM220 216h5v1h-5zM265 216h3v1h-3zM308 216h1v1h-1zM314 216h3v1h-3zM380 216h1v1h-1zM383 216h3v1h-3zM433 216h1v1h-1zM35 217h1v1h-1zM78 217h10v1h-10zM91 217h5v1h-5zM105 217h1v1h-1zM200 217h2v1h-2zM223 217h5v1h-5zM264 217h3v1h-3zM308 217h1v1h-1zM315 217h3v1h-3zM371 217h1v1h-1zM380 217h5v1h-5zM433 217h1v1h-1zM35 218h1v1h-1zM62 218h2v1h-2zM73 218h10v1h-10zM94 218h4v1h-4zM105 218h1v1h-1zM199 218h3v1h-3zM225 218h5v1h-5zM233 218h2v1h-2zM261 218h2v1h-2zM264 218h2v1h-2zM309 218h1v1h-1zM316 218h4v1h-4zM332 218h1v1h-1zM371 218h1v1h-1zM375 218h2v1h-2zM379 218h4v1h-4zM433 218h1v1h-1zM35 219h1v1h-1zM61 219h1v1h-1zM64 219h1v1h-1zM68 219h10v1h-10zM96 219h3v1h-3zM104 219h1v1h-1zM199 219h2v1h-2zM227 219h6v1h-6zM235 219h1v1h-1zM260 219h1v1h-1zM263 219h2v1h-2zM309 219h1v1h-1zM317 219h1v1h-1zM320 219h1v1h-1zM332 219h1v1h-1zM372 219h1v1h-1zM374 219h1v1h-1zM377 219h5v1h-5zM433 219h1v1h-1zM35 220h1v1h-1zM60 220h1v1h-1zM65 220h8v1h-8zM97 220h3v1h-3zM104 220h1v1h-1zM198 220h2v1h-2zM230 220h2v1h-2zM236 220h24v1h-24zM264 220h1v1h-1zM309 220h1v1h-1zM316 220h1v1h-1zM321 220h1v1h-1zM332 220h1v1h-1zM372 220h2v1h-2zM378 220h2v1h-2zM433 220h1v1h-1zM35 221h1v1h-1zM60 221h1v1h-1zM65 221h3v1h-3zM98 221h3v1h-3zM104 221h1v1h-1zM197 221h3v1h-3zM231 221h1v1h-1zM236 221h24v1h-24zM264 221h1v1h-1zM310 221h1v1h-1zM316 221h1v1h-1zM321 221h3v1h-3zM331 221h1v1h-1zM372 221h2v1h-2zM378 221h1v1h-1zM433 221h1v1h-1zM35 222h1v1h-1zM61 222h1v1h-1zM64 222h1v1h-1zM99 222h3v1h-3zM103 222h1v1h-1zM197 222h2v1h-2zM232 222h1v1h-1zM235 222h1v1h-1zM260 222h1v1h-1zM263 222h1v1h-1zM310 222h1v1h-1zM317 222h1v1h-1zM320 222h9v1h-9zM331 222h1v1h-1zM367 222h8v1h-8zM377 222h1v1h-1zM379 222h1v1h-1zM433 222h1v1h-1zM35 223h1v1h-1zM62 223h2v1h-2zM100 223h4v1h-4zM196 223h2v1h-2zM233 223h2v1h-2zM261 223h2v1h-2zM318 223h2v1h-2zM324 223h10v1h-10zM362 223h10v1h-10zM375 223h2v1h-2zM379 223h1v1h-1zM433 223h1v1h-1zM35 224h1v1h-1zM101 224h4v1h-4zM195 224h3v1h-3zM329 224h10v1h-10zM347 224h2v1h-2zM358 224h9v1h-9zM378 224h1v1h-1zM433 224h1v1h-1zM35 225h1v1h-1zM102 225h4v1h-4zM195 225h2v1h-2zM330 225h1v1h-1zM334 225h10v1h-10zM346 225h1v1h-1zM349 225h1v1h-1zM353 225h10v1h-10zM374 225h1v1h-1zM378 225h1v1h-1zM433 225h1v1h-1zM35 226h1v1h-1zM102 226h1v1h-1zM104 226h3v1h-3zM194 226h2v1h-2zM329 226h1v1h-1zM339 226h7v1h-7zM350 226h8v1h-8zM374 226h1v1h-1zM433 226h1v1h-1zM35 227h1v1h-1zM101 227h1v1h-1zM105 227h3v1h-3zM193 227h3v1h-3zM329 227h1v1h-1zM344 227h2v1h-2zM350 227h3v1h-3zM374 227h1v1h-1zM433 227h1v1h-1zM35 228h1v1h-1zM101 228h1v1h-1zM106 228h3v1h-3zM192 228h3v1h-3zM328 228h1v1h-1zM346 228h1v1h-1zM349 228h1v1h-1zM374 228h1v1h-1zM433 228h1v1h-1zM35 229h1v1h-1zM101 229h1v1h-1zM107 229h3v1h-3zM192 229h2v1h-2zM328 229h1v1h-1zM347 229h2v1h-2zM433 229h1v1h-1zM35 230h1v1h-1zM108 230h4v1h-4zM191 230h3v1h-3zM328 230h1v1h-1zM373 230h6v1h-6zM433 230h1v1h-1zM35 231h1v1h-1zM110 231h3v1h-3zM190 231h3v1h-3zM313 231h1v1h-1zM327 231h1v1h-1zM373 231h1v1h-1zM378 231h1v1h-1zM433 231h1v1h-1zM35 232h1v1h-1zM111 232h3v1h-3zM190 232h2v1h-2zM313 232h1v1h-1zM327 232h1v1h-1zM373 232h1v1h-1zM378 232h1v1h-1zM433 232h1v1h-1zM35 233h1v1h-1zM112 233h3v1h-3zM189 233h3v1h-3zM313 233h1v1h-1zM326 233h1v1h-1zM373 233h1v1h-1zM378 233h1v1h-1zM433 233h1v1h-1zM35 234h1v1h-1zM113 234h3v1h-3zM188 234h3v1h-3zM314 234h1v1h-1zM326 234h1v1h-1zM373 234h1v1h-1zM378 234h1v1h-1zM433 234h1v1h-1zM35 235h1v1h-1zM114 235h3v1h-3zM188 235h2v1h-2zM314 235h1v1h-1zM326 235h1v1h-1zM373 235h6v1h-6zM433 235h1v1h-1zM35 236h1v1h-1zM115 236h6v1h-6zM187 236h2v1h-2zM314 236h1v1h-1zM325 236h1v1h-1zM433 236h1v1h-1zM35 237h1v1h-1zM117 237h2v1h-2zM121 237h1v1h-1zM186 237h3v1h-3zM314 237h1v1h-1zM325 237h1v1h-1zM433 237h1v1h-1zM35 238h1v1h-1zM97 238h1v1h-1zM117 238h1v1h-1zM122 238h1v1h-1zM186 238h2v1h-2zM315 238h1v1h-1zM324 238h1v1h-1zM433 238h1v1h-1zM35 239h1v1h-1zM97 239h1v1h-1zM117 239h1v1h-1zM122 239h3v1h-3zM185 239h2v1h-2zM315 239h1v1h-1zM324 239h1v1h-1zM433 239h1v1h-1zM35 240h1v1h-1zM97 240h1v1h-1zM118 240h1v1h-1zM121 240h9v1h-9zM184 240h3v1h-3zM315 240h1v1h-1zM324 240h1v1h-1zM433 240h1v1h-1zM35 241h1v1h-1zM96 241h1v1h-1zM119 241h2v1h-2zM125 241h10v1h-10zM184 241h2v1h-2zM316 241h1v1h-1zM323 241h1v1h-1zM433 241h1v1h-1zM35 242h4v1h-4zM96 242h1v1h-1zM130 242h10v1h-10zM148 242h2v1h-2zM183 242h2v1h-2zM316 242h1v1h-1zM430 242h4v1h-4zM35 243h1v1h-1zM95 243h1v1h-1zM135 243h10v1h-10zM147 243h1v1h-1zM150 243h1v1h-1zM182 243h3v1h-3zM316 243h1v1h-1zM433 243h1v1h-1zM35 244h1v1h-1zM95 244h1v1h-1zM140 244h7v1h-7zM151 244h1v1h-1zM182 244h2v1h-2zM317 244h1v1h-1zM433 244h1v1h-1zM35 245h1v1h-1zM95 245h1v1h-1zM145 245h2v1h-2zM151 245h3v1h-3zM181 245h2v1h-2zM317 245h1v1h-1zM433 245h1v1h-1zM35 246h1v1h-1zM94 246h1v1h-1zM147 246h1v1h-1zM150 246h8v1h-8zM180 246h3v1h-3zM317 246h1v1h-1zM433 246h1v1h-1zM35 247h1v1h-1zM94 247h1v1h-1zM148 247h2v1h-2zM153 247h9v1h-9zM180 247h2v1h-2zM317 247h1v1h-1zM433 247h1v1h-1zM35 248h1v1h-1zM94 248h1v1h-1zM157 248h9v1h-9zM179 248h2v1h-2zM318 248h1v1h-1zM433 248h1v1h-1zM35 249h1v1h-1zM62 249h2v1h-2zM91 249h3v1h-3zM161 249h9v1h-9zM176 249h5v1h-5zM318 249h2v1h-2zM433 249h1v1h-1zM35 250h1v1h-1zM93 250h1v1h-1zM165 250h9v1h-9zM175 250h1v1h-1zM178 250h2v1h-2zM320 250h1v1h-1zM433 250h1v1h-1zM35 251h1v1h-1zM61 251h1v1h-1zM64 251h1v1h-1zM90 251h1v1h-1zM93 251h1v1h-1zM169 251h6v1h-6zM179 251h1v1h-1zM317 251h1v1h-1zM320 251h1v1h-1zM433 251h1v1h-1zM35 252h1v1h-1zM65 252h10v1h-10zM83 252h7v1h-7zM173 252h2v1h-2zM179 252h1v1h-1zM433 252h1v1h-1zM35 253h1v1h-1zM60 253h1v1h-1zM65 253h1v1h-1zM89 253h1v1h-1zM94 253h1v1h-1zM175 253h1v1h-1zM178 253h1v1h-1zM316 253h1v1h-1zM321 253h1v1h-1zM433 253h1v1h-1zM35 254h1v1h-1zM60 254h6v1h-6zM89 254h6v1h-6zM176 254h2v1h-2zM316 254h6v1h-6zM433 254h1v1h-1zM35 255h1v1h-1zM433 255h1v1h-1zM35 256h1v1h-1zM433 256h1v1h-1zM35 257h1v1h-1zM433 257h1v1h-1zM35 258h1v1h-1zM433 258h1v1h-1zM35 259h1v1h-1zM433 259h1v1h-1zM35 260h1v1h-1zM433 260h1v1h-1zM35 261h1v1h-1zM433 261h1v1h-1zM35 262h1v1h-1zM433 262h1v1h-1zM35 263h1v1h-1zM433 263h1v1h-1zM35 264h1v1h-1zM433 264h1v1h-1zM35 265h1v1h-1zM433 265h1v1h-1zM35 266h1v1h-1zM433 266h1v1h-1zM35 267h1v1h-1zM63 267h1v1h-1zM92 267h1v1h-1zM120 267h1v1h-1zM149 267h1v1h-1zM177 267h1v1h-1zM206 267h1v1h-1zM234 267h1v1h-1zM262 267h1v1h-1zM291 267h1v1h-1zM319 267h1v1h-1zM348 267h1v1h-1zM376 267h1v1h-1zM405 267h1v1h-1zM433 267h1v1h-1zM35 268h1v1h-1zM63 268h1v1h-1zM92 268h1v1h-1zM120 268h1v1h-1zM149 268h1v1h-1zM177 268h1v1h-1zM206 268h1v1h-1zM234 268h1v1h-1zM262 268h1v1h-1zM291 268h1v1h-1zM319 268h1v1h-1zM348 268h1v1h-1zM376 268h1v1h-1zM405 268h1v1h-1zM433 268h1v1h-1zM35 269h1v1h-1zM63 269h1v1h-1zM92 269h1v1h-1zM120 269h1v1h-1zM149 269h1v1h-1zM177 269h1v1h-1zM206 269h1v1h-1zM234 269h1v1h-1zM262 269h1v1h-1zM291 269h1v1h-1zM319 269h1v1h-1zM348 269h1v1h-1zM376 269h1v1h-1zM405 269h1v1h-1zM433 269h1v1h-1zM35 270h399v1h-399zM454 331h2v1h-2zM453 332h1v1h-1zM456 332h1v1h-1zM446 333h7v1h-7zM457 333h10v1h-10zM445 334h8v1h-8zM457 334h10v1h-10zM453 335h1v1h-1zM456 335h1v1h-1zM454 336h2v1h-2zM452 347h6v1h-6zM452 348h1v1h-1zM457 348h1v1h-1zM452 349h1v1h-1zM457 349h1v1h-1zM445 350h4v1h-4zM452 350h1v1h-1zM457 350h1v1h-1zM461 350h4v1h-4zM452 351h1v1h-1zM457 351h1v1h-1zM452 352h6v1h-6zM455 364h1v1h-1zM454 365h1v1h-1zM456 365h1v1h-1zM453 366h1v1h-1zM457 366h1v1h-1zM445 367h1v1h-1zM448 367h1v1h-1zM451 367h2v1h-2zM458 367h1v1h-1zM460 367h1v1h-1zM463 367h1v1h-1zM453 368h1v1h-1zM457 368h1v1h-1zM454 369h1v1h-1zM456 369h1v1h-1zM455 370h1v1h-1zM454 380h2v1h-2zM453 382h1v1h-1zM456 382h1v1h-1zM445 383h8v1h-8zM465 383h1v1h-1zM452 384h1v1h-1zM457 384h1v1h-1zM452 385h6v1h-6z"/><g font-family="'Liberation Sans', Arial, sans-serif" font-size="13" fill="#000" text-rendering="geometricPrecision" shape-rendering="auto"><text x="0.3" y="22" textLength="472" lengthAdjust="spacing">атические профили идельного и реального ролика3, в зависимости от способа</text><text x="179" y="38">предьявления.</text><text x="11.5" y="275" font-size="14" textLength="17.4" lengthAdjust="spacingAndGlyphs">0,0</text><text x="11.5" y="247" font-size="14" textLength="17.4" lengthAdjust="spacingAndGlyphs">0,1</text><text x="11.5" y="220" font-size="14" textLength="17.4" lengthAdjust="spacingAndGlyphs">0,2</text><text x="11.5" y="192" font-size="14" textLength="17.4" lengthAdjust="spacingAndGlyphs">0,3</text><text x="11.5" y="165" font-size="14" textLength="17.4" lengthAdjust="spacingAndGlyphs">0,4</text><text x="11.5" y="137" font-size="14" textLength="17.4" lengthAdjust="spacingAndGlyphs">0,5</text><text x="11.5" y="109" font-size="14" textLength="17.4" lengthAdjust="spacingAndGlyphs">0,6</text><text x="11.5" y="82" font-size="14" textLength="17.4" lengthAdjust="spacingAndGlyphs">0,7</text><text x="11.5" y="54" font-size="14" textLength="17.4" lengthAdjust="spacingAndGlyphs">0,8</text><text transform="translate(68.03 276.5) rotate(-90)" text-anchor="end" textLength="96.30">Расслабленный</text><text transform="translate(96.46 276.5) rotate(-90)" text-anchor="end" textLength="59.67">Скромный</text><text transform="translate(124.89 276.5) rotate(-90)" text-anchor="end" textLength="58.28">Понятный</text><text transform="translate(153.31 276.5) rotate(-90)" text-anchor="end" textLength="72.42">Интересный</text><text transform="translate(181.74 276.5) rotate(-90)" text-anchor="end" textLength="66.63">Радостный</text><text transform="translate(210.17 276.5) rotate(-90)" text-anchor="end" textLength="99.47">Информативный</text><text transform="translate(238.60 276.5) rotate(-90)" text-anchor="end" textLength="53.58">Быстрый</text><text transform="translate(267.03 276.5) rotate(-90)" text-anchor="end" textLength="86.67">Оригинальный</text><text transform="translate(295.46 276.5) rotate(-90)" text-anchor="end" textLength="38.74">Умный</text><text transform="translate(323.89 276.5) rotate(-90)" text-anchor="end" textLength="92.38">Неагрессивный</text><text transform="translate(352.31 276.5) rotate(-90)" text-anchor="end" textLength="58.27">Красивый</text><text transform="translate(380.74 276.5) rotate(-90)" text-anchor="end" textLength="108.20">Привлекательный</text><text transform="translate(409.17 276.5) rotate(-90)" text-anchor="end" textLength="67.30">Правдивый</text><text x="473.5" y="338" textLength="68.12">Идеальный</text><text x="473.5" y="354" textLength="113.11">Звук+изображение</text><text x="473.5" y="371" textLength="79.46">Изображение</text><text x="473.5" y="387" textLength="27.85">Звук</text></g></svg>
</body></html>
